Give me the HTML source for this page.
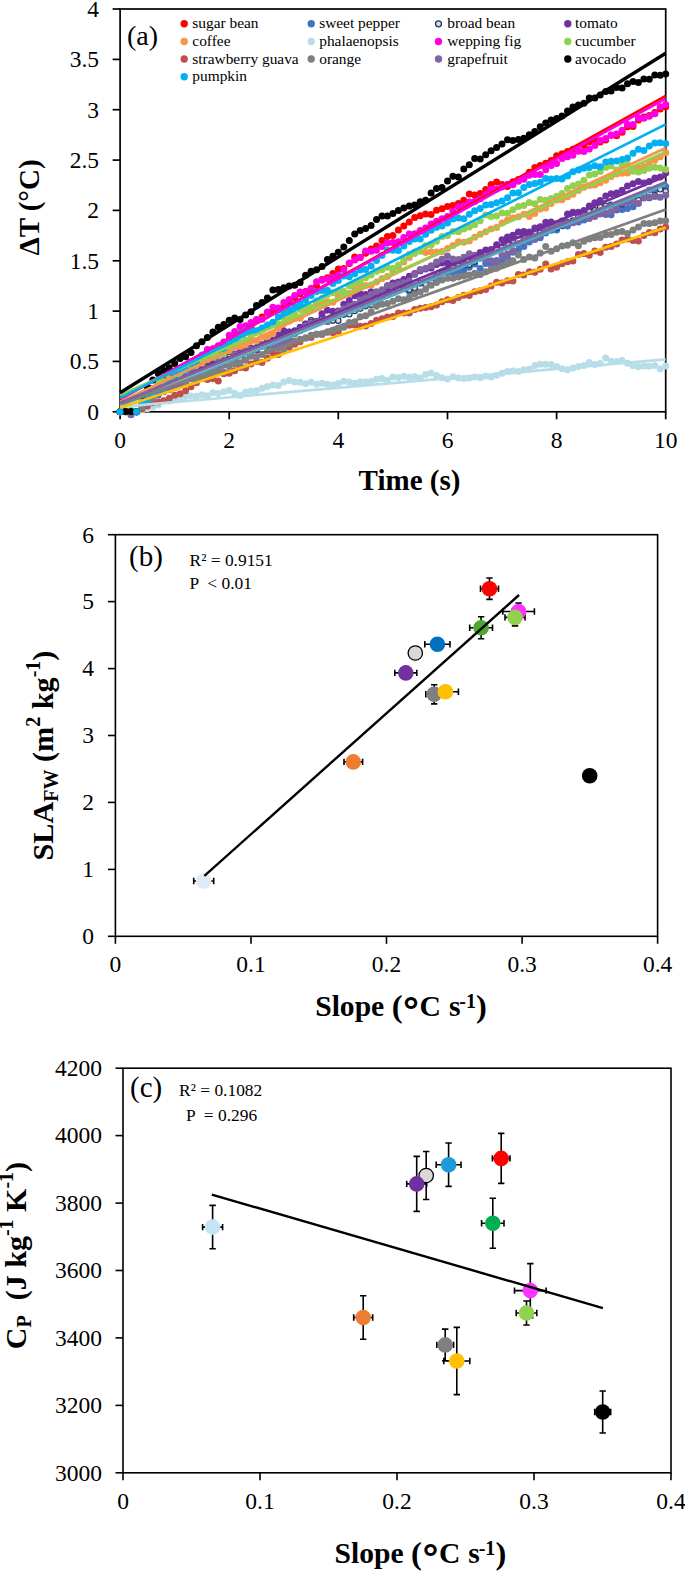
<!DOCTYPE html>
<html><head><meta charset="utf-8"><title>Figure</title>
<style>html,body{margin:0;padding:0;background:#fff}svg{display:block}</style></head>
<body>
<svg width="685" height="1571" viewBox="0 0 685 1571" font-family='"Liberation Serif", "DejaVu Serif", serif'>
<rect width="685" height="1571" fill="#fff"/>
<rect x="120.1" y="9.0" width="545.6" height="402.8" fill="none" stroke="#000" stroke-width="1.7"/>
<g stroke="#000" stroke-width="1.7">
<line x1="112.6" y1="411.8" x2="120.1" y2="411.8"/>
<line x1="112.6" y1="361.4" x2="120.1" y2="361.4"/>
<line x1="112.6" y1="311.1" x2="120.1" y2="311.1"/>
<line x1="112.6" y1="260.8" x2="120.1" y2="260.8"/>
<line x1="112.6" y1="210.4" x2="120.1" y2="210.4"/>
<line x1="112.6" y1="160.1" x2="120.1" y2="160.1"/>
<line x1="112.6" y1="109.7" x2="120.1" y2="109.7"/>
<line x1="112.6" y1="59.4" x2="120.1" y2="59.4"/>
<line x1="112.6" y1="9.0" x2="120.1" y2="9.0"/>
<line x1="120.1" y1="411.8" x2="120.1" y2="419.3"/>
<line x1="229.2" y1="411.8" x2="229.2" y2="419.3"/>
<line x1="338.3" y1="411.8" x2="338.3" y2="419.3"/>
<line x1="447.5" y1="411.8" x2="447.5" y2="419.3"/>
<line x1="556.6" y1="411.8" x2="556.6" y2="419.3"/>
<line x1="665.7" y1="411.8" x2="665.7" y2="419.3"/>
</g>
<g id="pa-dots">
<g fill="#FF0000">
<circle cx="120.1" cy="411.8" r="3.5"/>
<circle cx="125.6" cy="411.7" r="3.5"/>
<circle cx="131.0" cy="411.2" r="3.5"/>
<circle cx="136.5" cy="411.8" r="3.5"/>
<circle cx="141.9" cy="401.0" r="3.5"/>
<circle cx="147.4" cy="394.7" r="3.5"/>
<circle cx="152.8" cy="388.8" r="3.5"/>
<circle cx="158.3" cy="383.3" r="3.5"/>
<circle cx="163.7" cy="379.7" r="3.5"/>
<circle cx="169.2" cy="376.4" r="3.5"/>
<circle cx="174.7" cy="376.5" r="3.5"/>
<circle cx="180.1" cy="370.6" r="3.5"/>
<circle cx="185.6" cy="366.2" r="3.5"/>
<circle cx="191.0" cy="362.2" r="3.5"/>
<circle cx="196.5" cy="362.4" r="3.5"/>
<circle cx="201.9" cy="361.2" r="3.5"/>
<circle cx="207.4" cy="357.7" r="3.5"/>
<circle cx="212.9" cy="353.5" r="3.5"/>
<circle cx="218.3" cy="348.2" r="3.5"/>
<circle cx="223.8" cy="344.4" r="3.5"/>
<circle cx="229.2" cy="339.7" r="3.5"/>
<circle cx="234.7" cy="337.7" r="3.5"/>
<circle cx="240.1" cy="333.4" r="3.5"/>
<circle cx="245.6" cy="329.3" r="3.5"/>
<circle cx="251.0" cy="327.5" r="3.5"/>
<circle cx="256.5" cy="320.7" r="3.5"/>
<circle cx="262.0" cy="317.1" r="3.5"/>
<circle cx="267.4" cy="312.4" r="3.5"/>
<circle cx="272.9" cy="311.4" r="3.5"/>
<circle cx="278.3" cy="309.5" r="3.5"/>
<circle cx="283.8" cy="306.2" r="3.5"/>
<circle cx="289.2" cy="302.5" r="3.5"/>
<circle cx="294.7" cy="297.5" r="3.5"/>
<circle cx="300.1" cy="293.7" r="3.5"/>
<circle cx="305.6" cy="291.4" r="3.5"/>
<circle cx="311.1" cy="289.4" r="3.5"/>
<circle cx="316.5" cy="286.1" r="3.5"/>
<circle cx="322.0" cy="279.5" r="3.5"/>
<circle cx="327.4" cy="277.8" r="3.5"/>
<circle cx="332.9" cy="273.5" r="3.5"/>
<circle cx="338.3" cy="269.1" r="3.5"/>
<circle cx="343.8" cy="268.4" r="3.5"/>
<circle cx="349.3" cy="263.6" r="3.5"/>
<circle cx="354.7" cy="257.0" r="3.5"/>
<circle cx="360.2" cy="257.6" r="3.5"/>
<circle cx="365.6" cy="253.3" r="3.5"/>
<circle cx="371.1" cy="248.9" r="3.5"/>
<circle cx="376.5" cy="246.1" r="3.5"/>
<circle cx="382.0" cy="240.5" r="3.5"/>
<circle cx="387.4" cy="236.6" r="3.5"/>
<circle cx="392.9" cy="235.4" r="3.5"/>
<circle cx="398.4" cy="230.0" r="3.5"/>
<circle cx="403.8" cy="225.9" r="3.5"/>
<circle cx="409.3" cy="221.9" r="3.5"/>
<circle cx="414.7" cy="217.5" r="3.5"/>
<circle cx="420.2" cy="215.7" r="3.5"/>
<circle cx="425.6" cy="214.0" r="3.5"/>
<circle cx="431.1" cy="214.5" r="3.5"/>
<circle cx="436.5" cy="210.2" r="3.5"/>
<circle cx="442.0" cy="208.7" r="3.5"/>
<circle cx="447.5" cy="206.5" r="3.5"/>
<circle cx="452.9" cy="205.5" r="3.5"/>
<circle cx="458.4" cy="203.4" r="3.5"/>
<circle cx="463.8" cy="200.2" r="3.5"/>
<circle cx="469.3" cy="193.9" r="3.5"/>
<circle cx="474.7" cy="195.1" r="3.5"/>
<circle cx="480.2" cy="193.6" r="3.5"/>
<circle cx="485.7" cy="189.6" r="3.5"/>
<circle cx="491.1" cy="184.4" r="3.5"/>
<circle cx="496.6" cy="182.1" r="3.5"/>
<circle cx="502.0" cy="184.6" r="3.5"/>
<circle cx="507.5" cy="186.5" r="3.5"/>
<circle cx="512.9" cy="181.8" r="3.5"/>
<circle cx="518.4" cy="179.5" r="3.5"/>
<circle cx="523.8" cy="177.9" r="3.5"/>
<circle cx="529.3" cy="172.2" r="3.5"/>
<circle cx="534.8" cy="167.5" r="3.5"/>
<circle cx="540.2" cy="165.5" r="3.5"/>
<circle cx="545.7" cy="163.2" r="3.5"/>
<circle cx="551.1" cy="160.5" r="3.5"/>
<circle cx="556.6" cy="155.8" r="3.5"/>
<circle cx="562.0" cy="153.7" r="3.5"/>
<circle cx="567.5" cy="151.5" r="3.5"/>
<circle cx="572.9" cy="149.2" r="3.5"/>
<circle cx="578.4" cy="150.6" r="3.5"/>
<circle cx="583.9" cy="145.3" r="3.5"/>
<circle cx="589.3" cy="141.7" r="3.5"/>
<circle cx="594.8" cy="139.5" r="3.5"/>
<circle cx="600.2" cy="141.9" r="3.5"/>
<circle cx="605.7" cy="139.9" r="3.5"/>
<circle cx="611.1" cy="135.2" r="3.5"/>
<circle cx="616.6" cy="135.8" r="3.5"/>
<circle cx="622.1" cy="132.2" r="3.5"/>
<circle cx="627.5" cy="126.7" r="3.5"/>
<circle cx="633.0" cy="126.6" r="3.5"/>
<circle cx="638.4" cy="120.1" r="3.5"/>
<circle cx="643.9" cy="117.1" r="3.5"/>
<circle cx="649.3" cy="115.4" r="3.5"/>
<circle cx="654.8" cy="112.4" r="3.5"/>
<circle cx="660.2" cy="108.9" r="3.5"/>
<circle cx="665.7" cy="106.7" r="3.5"/>
</g>
<g fill="#4472C4">
<circle cx="120.1" cy="411.8" r="3.5"/>
<circle cx="125.6" cy="411.5" r="3.5"/>
<circle cx="131.0" cy="411.8" r="3.5"/>
<circle cx="136.5" cy="411.8" r="3.5"/>
<circle cx="141.9" cy="404.0" r="3.5"/>
<circle cx="147.4" cy="398.6" r="3.5"/>
<circle cx="152.8" cy="395.9" r="3.5"/>
<circle cx="158.3" cy="394.9" r="3.5"/>
<circle cx="163.7" cy="391.8" r="3.5"/>
<circle cx="169.2" cy="388.9" r="3.5"/>
<circle cx="174.7" cy="386.6" r="3.5"/>
<circle cx="180.1" cy="381.2" r="3.5"/>
<circle cx="185.6" cy="381.4" r="3.5"/>
<circle cx="191.0" cy="376.5" r="3.5"/>
<circle cx="196.5" cy="377.1" r="3.5"/>
<circle cx="201.9" cy="375.6" r="3.5"/>
<circle cx="207.4" cy="371.3" r="3.5"/>
<circle cx="212.9" cy="366.8" r="3.5"/>
<circle cx="218.3" cy="363.6" r="3.5"/>
<circle cx="223.8" cy="361.7" r="3.5"/>
<circle cx="229.2" cy="359.9" r="3.5"/>
<circle cx="234.7" cy="357.9" r="3.5"/>
<circle cx="240.1" cy="354.9" r="3.5"/>
<circle cx="245.6" cy="353.5" r="3.5"/>
<circle cx="251.0" cy="350.9" r="3.5"/>
<circle cx="256.5" cy="347.9" r="3.5"/>
<circle cx="262.0" cy="346.1" r="3.5"/>
<circle cx="267.4" cy="342.7" r="3.5"/>
<circle cx="272.9" cy="340.0" r="3.5"/>
<circle cx="278.3" cy="334.8" r="3.5"/>
<circle cx="283.8" cy="333.8" r="3.5"/>
<circle cx="289.2" cy="333.7" r="3.5"/>
<circle cx="294.7" cy="332.6" r="3.5"/>
<circle cx="300.1" cy="330.4" r="3.5"/>
<circle cx="305.6" cy="326.4" r="3.5"/>
<circle cx="311.1" cy="325.4" r="3.5"/>
<circle cx="316.5" cy="322.6" r="3.5"/>
<circle cx="322.0" cy="317.3" r="3.5"/>
<circle cx="327.4" cy="321.2" r="3.5"/>
<circle cx="332.9" cy="320.0" r="3.5"/>
<circle cx="338.3" cy="315.9" r="3.5"/>
<circle cx="343.8" cy="312.3" r="3.5"/>
<circle cx="349.3" cy="309.6" r="3.5"/>
<circle cx="354.7" cy="308.3" r="3.5"/>
<circle cx="360.2" cy="304.6" r="3.5"/>
<circle cx="365.6" cy="302.2" r="3.5"/>
<circle cx="371.1" cy="301.4" r="3.5"/>
<circle cx="376.5" cy="294.6" r="3.5"/>
<circle cx="382.0" cy="293.4" r="3.5"/>
<circle cx="387.4" cy="293.5" r="3.5"/>
<circle cx="392.9" cy="291.8" r="3.5"/>
<circle cx="398.4" cy="290.5" r="3.5"/>
<circle cx="403.8" cy="288.6" r="3.5"/>
<circle cx="409.3" cy="291.5" r="3.5"/>
<circle cx="414.7" cy="288.5" r="3.5"/>
<circle cx="420.2" cy="283.2" r="3.5"/>
<circle cx="425.6" cy="283.1" r="3.5"/>
<circle cx="431.1" cy="280.4" r="3.5"/>
<circle cx="436.5" cy="276.1" r="3.5"/>
<circle cx="442.0" cy="273.0" r="3.5"/>
<circle cx="447.5" cy="269.2" r="3.5"/>
<circle cx="452.9" cy="272.4" r="3.5"/>
<circle cx="458.4" cy="271.4" r="3.5"/>
<circle cx="463.8" cy="270.2" r="3.5"/>
<circle cx="469.3" cy="267.2" r="3.5"/>
<circle cx="474.7" cy="264.0" r="3.5"/>
<circle cx="480.2" cy="268.4" r="3.5"/>
<circle cx="485.7" cy="263.4" r="3.5"/>
<circle cx="491.1" cy="264.3" r="3.5"/>
<circle cx="496.6" cy="260.4" r="3.5"/>
<circle cx="502.0" cy="261.4" r="3.5"/>
<circle cx="507.5" cy="258.3" r="3.5"/>
<circle cx="512.9" cy="252.3" r="3.5"/>
<circle cx="518.4" cy="249.9" r="3.5"/>
<circle cx="523.8" cy="246.5" r="3.5"/>
<circle cx="529.3" cy="242.1" r="3.5"/>
<circle cx="534.8" cy="239.4" r="3.5"/>
<circle cx="540.2" cy="237.8" r="3.5"/>
<circle cx="545.7" cy="233.1" r="3.5"/>
<circle cx="551.1" cy="230.3" r="3.5"/>
<circle cx="556.6" cy="230.1" r="3.5"/>
<circle cx="562.0" cy="223.6" r="3.5"/>
<circle cx="567.5" cy="225.9" r="3.5"/>
<circle cx="572.9" cy="222.7" r="3.5"/>
<circle cx="578.4" cy="222.0" r="3.5"/>
<circle cx="583.9" cy="219.9" r="3.5"/>
<circle cx="589.3" cy="217.0" r="3.5"/>
<circle cx="594.8" cy="215.4" r="3.5"/>
<circle cx="600.2" cy="212.9" r="3.5"/>
<circle cx="605.7" cy="214.5" r="3.5"/>
<circle cx="611.1" cy="214.7" r="3.5"/>
<circle cx="616.6" cy="210.1" r="3.5"/>
<circle cx="622.1" cy="209.5" r="3.5"/>
<circle cx="627.5" cy="208.4" r="3.5"/>
<circle cx="633.0" cy="206.8" r="3.5"/>
<circle cx="638.4" cy="199.8" r="3.5"/>
<circle cx="643.9" cy="195.3" r="3.5"/>
<circle cx="649.3" cy="190.1" r="3.5"/>
<circle cx="654.8" cy="190.2" r="3.5"/>
<circle cx="660.2" cy="187.4" r="3.5"/>
<circle cx="665.7" cy="186.6" r="3.5"/>
</g>
<g fill="#D9D9D9" stroke="#1F3864" stroke-width="1.2">
<circle cx="120.1" cy="411.8" r="2.7"/>
<circle cx="125.6" cy="411.3" r="2.7"/>
<circle cx="131.0" cy="414.8" r="2.7"/>
<circle cx="136.5" cy="411.8" r="2.7"/>
<circle cx="141.9" cy="405.4" r="2.7"/>
<circle cx="147.4" cy="399.1" r="2.7"/>
<circle cx="152.8" cy="395.5" r="2.7"/>
<circle cx="158.3" cy="392.9" r="2.7"/>
<circle cx="163.7" cy="389.1" r="2.7"/>
<circle cx="169.2" cy="385.7" r="2.7"/>
<circle cx="174.7" cy="381.0" r="2.7"/>
<circle cx="180.1" cy="381.7" r="2.7"/>
<circle cx="185.6" cy="377.3" r="2.7"/>
<circle cx="191.0" cy="373.0" r="2.7"/>
<circle cx="196.5" cy="369.5" r="2.7"/>
<circle cx="201.9" cy="369.5" r="2.7"/>
<circle cx="207.4" cy="369.5" r="2.7"/>
<circle cx="212.9" cy="365.3" r="2.7"/>
<circle cx="218.3" cy="363.5" r="2.7"/>
<circle cx="223.8" cy="361.4" r="2.7"/>
<circle cx="229.2" cy="356.8" r="2.7"/>
<circle cx="234.7" cy="356.2" r="2.7"/>
<circle cx="240.1" cy="358.7" r="2.7"/>
<circle cx="245.6" cy="355.7" r="2.7"/>
<circle cx="251.0" cy="355.7" r="2.7"/>
<circle cx="256.5" cy="349.9" r="2.7"/>
<circle cx="262.0" cy="346.3" r="2.7"/>
<circle cx="267.4" cy="345.0" r="2.7"/>
<circle cx="272.9" cy="342.1" r="2.7"/>
<circle cx="278.3" cy="338.0" r="2.7"/>
<circle cx="283.8" cy="335.9" r="2.7"/>
<circle cx="289.2" cy="331.7" r="2.7"/>
<circle cx="294.7" cy="330.8" r="2.7"/>
<circle cx="300.1" cy="327.4" r="2.7"/>
<circle cx="305.6" cy="323.7" r="2.7"/>
<circle cx="311.1" cy="320.4" r="2.7"/>
<circle cx="316.5" cy="321.7" r="2.7"/>
<circle cx="322.0" cy="318.9" r="2.7"/>
<circle cx="327.4" cy="321.3" r="2.7"/>
<circle cx="332.9" cy="320.4" r="2.7"/>
<circle cx="338.3" cy="320.7" r="2.7"/>
<circle cx="343.8" cy="314.6" r="2.7"/>
<circle cx="349.3" cy="314.3" r="2.7"/>
<circle cx="354.7" cy="311.0" r="2.7"/>
<circle cx="360.2" cy="308.6" r="2.7"/>
<circle cx="365.6" cy="306.1" r="2.7"/>
<circle cx="371.1" cy="304.7" r="2.7"/>
<circle cx="376.5" cy="301.6" r="2.7"/>
<circle cx="382.0" cy="296.1" r="2.7"/>
<circle cx="387.4" cy="295.2" r="2.7"/>
<circle cx="392.9" cy="292.9" r="2.7"/>
<circle cx="398.4" cy="289.7" r="2.7"/>
<circle cx="403.8" cy="289.0" r="2.7"/>
<circle cx="409.3" cy="289.7" r="2.7"/>
<circle cx="414.7" cy="287.9" r="2.7"/>
<circle cx="420.2" cy="283.0" r="2.7"/>
<circle cx="425.6" cy="284.1" r="2.7"/>
<circle cx="431.1" cy="281.9" r="2.7"/>
<circle cx="436.5" cy="276.8" r="2.7"/>
<circle cx="442.0" cy="273.3" r="2.7"/>
<circle cx="447.5" cy="271.7" r="2.7"/>
<circle cx="452.9" cy="267.7" r="2.7"/>
<circle cx="458.4" cy="265.4" r="2.7"/>
<circle cx="463.8" cy="265.3" r="2.7"/>
<circle cx="469.3" cy="264.7" r="2.7"/>
<circle cx="474.7" cy="261.6" r="2.7"/>
<circle cx="480.2" cy="255.7" r="2.7"/>
<circle cx="485.7" cy="253.8" r="2.7"/>
<circle cx="491.1" cy="252.1" r="2.7"/>
<circle cx="496.6" cy="249.3" r="2.7"/>
<circle cx="502.0" cy="247.7" r="2.7"/>
<circle cx="507.5" cy="242.9" r="2.7"/>
<circle cx="512.9" cy="240.6" r="2.7"/>
<circle cx="518.4" cy="235.2" r="2.7"/>
<circle cx="523.8" cy="237.3" r="2.7"/>
<circle cx="529.3" cy="233.0" r="2.7"/>
<circle cx="534.8" cy="231.7" r="2.7"/>
<circle cx="540.2" cy="232.6" r="2.7"/>
<circle cx="545.7" cy="227.7" r="2.7"/>
<circle cx="551.1" cy="226.0" r="2.7"/>
<circle cx="556.6" cy="227.9" r="2.7"/>
<circle cx="562.0" cy="225.9" r="2.7"/>
<circle cx="567.5" cy="222.0" r="2.7"/>
<circle cx="572.9" cy="220.5" r="2.7"/>
<circle cx="578.4" cy="216.6" r="2.7"/>
<circle cx="583.9" cy="213.8" r="2.7"/>
<circle cx="589.3" cy="211.6" r="2.7"/>
<circle cx="594.8" cy="210.3" r="2.7"/>
<circle cx="600.2" cy="207.1" r="2.7"/>
<circle cx="605.7" cy="205.8" r="2.7"/>
<circle cx="611.1" cy="204.8" r="2.7"/>
<circle cx="616.6" cy="208.1" r="2.7"/>
<circle cx="622.1" cy="204.2" r="2.7"/>
<circle cx="627.5" cy="200.4" r="2.7"/>
<circle cx="633.0" cy="200.4" r="2.7"/>
<circle cx="638.4" cy="200.2" r="2.7"/>
<circle cx="643.9" cy="195.0" r="2.7"/>
<circle cx="649.3" cy="198.0" r="2.7"/>
<circle cx="654.8" cy="195.2" r="2.7"/>
<circle cx="660.2" cy="189.3" r="2.7"/>
<circle cx="665.7" cy="191.3" r="2.7"/>
</g>
<g fill="#7030A0">
<circle cx="120.1" cy="411.8" r="3.5"/>
<circle cx="125.6" cy="411.7" r="3.5"/>
<circle cx="131.0" cy="411.3" r="3.5"/>
<circle cx="136.5" cy="411.8" r="3.5"/>
<circle cx="141.9" cy="404.8" r="3.5"/>
<circle cx="147.4" cy="400.2" r="3.5"/>
<circle cx="152.8" cy="395.8" r="3.5"/>
<circle cx="158.3" cy="392.3" r="3.5"/>
<circle cx="163.7" cy="389.8" r="3.5"/>
<circle cx="169.2" cy="388.5" r="3.5"/>
<circle cx="174.7" cy="386.0" r="3.5"/>
<circle cx="180.1" cy="381.3" r="3.5"/>
<circle cx="185.6" cy="378.9" r="3.5"/>
<circle cx="191.0" cy="378.2" r="3.5"/>
<circle cx="196.5" cy="376.8" r="3.5"/>
<circle cx="201.9" cy="368.6" r="3.5"/>
<circle cx="207.4" cy="365.5" r="3.5"/>
<circle cx="212.9" cy="363.6" r="3.5"/>
<circle cx="218.3" cy="367.3" r="3.5"/>
<circle cx="223.8" cy="362.7" r="3.5"/>
<circle cx="229.2" cy="359.2" r="3.5"/>
<circle cx="234.7" cy="353.9" r="3.5"/>
<circle cx="240.1" cy="352.1" r="3.5"/>
<circle cx="245.6" cy="350.8" r="3.5"/>
<circle cx="251.0" cy="348.1" r="3.5"/>
<circle cx="256.5" cy="349.9" r="3.5"/>
<circle cx="262.0" cy="344.6" r="3.5"/>
<circle cx="267.4" cy="341.7" r="3.5"/>
<circle cx="272.9" cy="340.8" r="3.5"/>
<circle cx="278.3" cy="335.6" r="3.5"/>
<circle cx="283.8" cy="330.7" r="3.5"/>
<circle cx="289.2" cy="332.3" r="3.5"/>
<circle cx="294.7" cy="330.9" r="3.5"/>
<circle cx="300.1" cy="327.2" r="3.5"/>
<circle cx="305.6" cy="324.2" r="3.5"/>
<circle cx="311.1" cy="322.3" r="3.5"/>
<circle cx="316.5" cy="321.2" r="3.5"/>
<circle cx="322.0" cy="313.8" r="3.5"/>
<circle cx="327.4" cy="310.3" r="3.5"/>
<circle cx="332.9" cy="311.2" r="3.5"/>
<circle cx="338.3" cy="310.9" r="3.5"/>
<circle cx="343.8" cy="304.2" r="3.5"/>
<circle cx="349.3" cy="300.5" r="3.5"/>
<circle cx="354.7" cy="295.7" r="3.5"/>
<circle cx="360.2" cy="293.7" r="3.5"/>
<circle cx="365.6" cy="294.4" r="3.5"/>
<circle cx="371.1" cy="291.8" r="3.5"/>
<circle cx="376.5" cy="293.6" r="3.5"/>
<circle cx="382.0" cy="291.1" r="3.5"/>
<circle cx="387.4" cy="287.3" r="3.5"/>
<circle cx="392.9" cy="283.0" r="3.5"/>
<circle cx="398.4" cy="282.1" r="3.5"/>
<circle cx="403.8" cy="279.6" r="3.5"/>
<circle cx="409.3" cy="276.3" r="3.5"/>
<circle cx="414.7" cy="273.6" r="3.5"/>
<circle cx="420.2" cy="270.7" r="3.5"/>
<circle cx="425.6" cy="268.9" r="3.5"/>
<circle cx="431.1" cy="267.9" r="3.5"/>
<circle cx="436.5" cy="264.5" r="3.5"/>
<circle cx="442.0" cy="263.0" r="3.5"/>
<circle cx="447.5" cy="262.8" r="3.5"/>
<circle cx="452.9" cy="262.4" r="3.5"/>
<circle cx="458.4" cy="260.4" r="3.5"/>
<circle cx="463.8" cy="259.0" r="3.5"/>
<circle cx="469.3" cy="257.1" r="3.5"/>
<circle cx="474.7" cy="255.8" r="3.5"/>
<circle cx="480.2" cy="252.5" r="3.5"/>
<circle cx="485.7" cy="250.0" r="3.5"/>
<circle cx="491.1" cy="249.4" r="3.5"/>
<circle cx="496.6" cy="244.8" r="3.5"/>
<circle cx="502.0" cy="239.7" r="3.5"/>
<circle cx="507.5" cy="236.9" r="3.5"/>
<circle cx="512.9" cy="235.2" r="3.5"/>
<circle cx="518.4" cy="232.0" r="3.5"/>
<circle cx="523.8" cy="231.6" r="3.5"/>
<circle cx="529.3" cy="231.9" r="3.5"/>
<circle cx="534.8" cy="228.1" r="3.5"/>
<circle cx="540.2" cy="226.8" r="3.5"/>
<circle cx="545.7" cy="222.2" r="3.5"/>
<circle cx="551.1" cy="221.9" r="3.5"/>
<circle cx="556.6" cy="223.7" r="3.5"/>
<circle cx="562.0" cy="221.0" r="3.5"/>
<circle cx="567.5" cy="213.9" r="3.5"/>
<circle cx="572.9" cy="212.3" r="3.5"/>
<circle cx="578.4" cy="212.3" r="3.5"/>
<circle cx="583.9" cy="210.4" r="3.5"/>
<circle cx="589.3" cy="206.1" r="3.5"/>
<circle cx="594.8" cy="202.8" r="3.5"/>
<circle cx="600.2" cy="200.5" r="3.5"/>
<circle cx="605.7" cy="195.9" r="3.5"/>
<circle cx="611.1" cy="193.8" r="3.5"/>
<circle cx="616.6" cy="192.9" r="3.5"/>
<circle cx="622.1" cy="190.3" r="3.5"/>
<circle cx="627.5" cy="186.0" r="3.5"/>
<circle cx="633.0" cy="183.8" r="3.5"/>
<circle cx="638.4" cy="181.5" r="3.5"/>
<circle cx="643.9" cy="183.1" r="3.5"/>
<circle cx="649.3" cy="181.5" r="3.5"/>
<circle cx="654.8" cy="178.1" r="3.5"/>
<circle cx="660.2" cy="177.0" r="3.5"/>
<circle cx="665.7" cy="173.0" r="3.5"/>
</g>
<g fill="#F79646">
<circle cx="120.1" cy="411.8" r="3.5"/>
<circle cx="125.6" cy="411.7" r="3.5"/>
<circle cx="131.0" cy="411.1" r="3.5"/>
<circle cx="136.5" cy="411.8" r="3.5"/>
<circle cx="141.9" cy="401.9" r="3.5"/>
<circle cx="147.4" cy="394.5" r="3.5"/>
<circle cx="152.8" cy="391.3" r="3.5"/>
<circle cx="158.3" cy="385.2" r="3.5"/>
<circle cx="163.7" cy="381.4" r="3.5"/>
<circle cx="169.2" cy="379.6" r="3.5"/>
<circle cx="174.7" cy="379.8" r="3.5"/>
<circle cx="180.1" cy="376.4" r="3.5"/>
<circle cx="185.6" cy="372.9" r="3.5"/>
<circle cx="191.0" cy="368.3" r="3.5"/>
<circle cx="196.5" cy="365.0" r="3.5"/>
<circle cx="201.9" cy="363.3" r="3.5"/>
<circle cx="207.4" cy="359.6" r="3.5"/>
<circle cx="212.9" cy="356.9" r="3.5"/>
<circle cx="218.3" cy="354.7" r="3.5"/>
<circle cx="223.8" cy="352.6" r="3.5"/>
<circle cx="229.2" cy="350.7" r="3.5"/>
<circle cx="234.7" cy="346.8" r="3.5"/>
<circle cx="240.1" cy="346.6" r="3.5"/>
<circle cx="245.6" cy="344.5" r="3.5"/>
<circle cx="251.0" cy="341.1" r="3.5"/>
<circle cx="256.5" cy="340.6" r="3.5"/>
<circle cx="262.0" cy="337.3" r="3.5"/>
<circle cx="267.4" cy="337.1" r="3.5"/>
<circle cx="272.9" cy="333.5" r="3.5"/>
<circle cx="278.3" cy="327.9" r="3.5"/>
<circle cx="283.8" cy="323.5" r="3.5"/>
<circle cx="289.2" cy="320.9" r="3.5"/>
<circle cx="294.7" cy="318.6" r="3.5"/>
<circle cx="300.1" cy="318.2" r="3.5"/>
<circle cx="305.6" cy="311.0" r="3.5"/>
<circle cx="311.1" cy="308.0" r="3.5"/>
<circle cx="316.5" cy="304.0" r="3.5"/>
<circle cx="322.0" cy="304.1" r="3.5"/>
<circle cx="327.4" cy="301.8" r="3.5"/>
<circle cx="332.9" cy="302.3" r="3.5"/>
<circle cx="338.3" cy="296.8" r="3.5"/>
<circle cx="343.8" cy="292.1" r="3.5"/>
<circle cx="349.3" cy="293.4" r="3.5"/>
<circle cx="354.7" cy="289.7" r="3.5"/>
<circle cx="360.2" cy="285.1" r="3.5"/>
<circle cx="365.6" cy="285.6" r="3.5"/>
<circle cx="371.1" cy="284.9" r="3.5"/>
<circle cx="376.5" cy="282.1" r="3.5"/>
<circle cx="382.0" cy="278.4" r="3.5"/>
<circle cx="387.4" cy="276.6" r="3.5"/>
<circle cx="392.9" cy="271.8" r="3.5"/>
<circle cx="398.4" cy="266.8" r="3.5"/>
<circle cx="403.8" cy="261.9" r="3.5"/>
<circle cx="409.3" cy="257.4" r="3.5"/>
<circle cx="414.7" cy="252.0" r="3.5"/>
<circle cx="420.2" cy="249.8" r="3.5"/>
<circle cx="425.6" cy="252.4" r="3.5"/>
<circle cx="431.1" cy="251.8" r="3.5"/>
<circle cx="436.5" cy="251.9" r="3.5"/>
<circle cx="442.0" cy="251.4" r="3.5"/>
<circle cx="447.5" cy="248.6" r="3.5"/>
<circle cx="452.9" cy="245.4" r="3.5"/>
<circle cx="458.4" cy="241.7" r="3.5"/>
<circle cx="463.8" cy="242.3" r="3.5"/>
<circle cx="469.3" cy="241.0" r="3.5"/>
<circle cx="474.7" cy="237.2" r="3.5"/>
<circle cx="480.2" cy="234.2" r="3.5"/>
<circle cx="485.7" cy="231.7" r="3.5"/>
<circle cx="491.1" cy="228.9" r="3.5"/>
<circle cx="496.6" cy="227.5" r="3.5"/>
<circle cx="502.0" cy="223.0" r="3.5"/>
<circle cx="507.5" cy="220.0" r="3.5"/>
<circle cx="512.9" cy="218.0" r="3.5"/>
<circle cx="518.4" cy="216.8" r="3.5"/>
<circle cx="523.8" cy="214.3" r="3.5"/>
<circle cx="529.3" cy="216.4" r="3.5"/>
<circle cx="534.8" cy="213.6" r="3.5"/>
<circle cx="540.2" cy="209.0" r="3.5"/>
<circle cx="545.7" cy="208.1" r="3.5"/>
<circle cx="551.1" cy="203.5" r="3.5"/>
<circle cx="556.6" cy="199.9" r="3.5"/>
<circle cx="562.0" cy="199.8" r="3.5"/>
<circle cx="567.5" cy="196.8" r="3.5"/>
<circle cx="572.9" cy="194.3" r="3.5"/>
<circle cx="578.4" cy="190.5" r="3.5"/>
<circle cx="583.9" cy="187.2" r="3.5"/>
<circle cx="589.3" cy="185.4" r="3.5"/>
<circle cx="594.8" cy="185.0" r="3.5"/>
<circle cx="600.2" cy="182.7" r="3.5"/>
<circle cx="605.7" cy="180.2" r="3.5"/>
<circle cx="611.1" cy="176.5" r="3.5"/>
<circle cx="616.6" cy="173.9" r="3.5"/>
<circle cx="622.1" cy="173.2" r="3.5"/>
<circle cx="627.5" cy="172.9" r="3.5"/>
<circle cx="633.0" cy="170.0" r="3.5"/>
<circle cx="638.4" cy="168.0" r="3.5"/>
<circle cx="643.9" cy="166.4" r="3.5"/>
<circle cx="649.3" cy="162.7" r="3.5"/>
<circle cx="654.8" cy="160.2" r="3.5"/>
<circle cx="660.2" cy="156.7" r="3.5"/>
<circle cx="665.7" cy="152.8" r="3.5"/>
</g>
<g fill="#B7DEE8">
<circle cx="120.1" cy="411.8" r="3.5"/>
<circle cx="125.6" cy="411.6" r="3.5"/>
<circle cx="131.0" cy="411.7" r="3.5"/>
<circle cx="136.5" cy="411.8" r="3.5"/>
<circle cx="141.9" cy="410.0" r="3.5"/>
<circle cx="147.4" cy="408.8" r="3.5"/>
<circle cx="152.8" cy="406.9" r="3.5"/>
<circle cx="158.3" cy="404.9" r="3.5"/>
<circle cx="163.7" cy="400.8" r="3.5"/>
<circle cx="169.2" cy="400.9" r="3.5"/>
<circle cx="174.7" cy="398.8" r="3.5"/>
<circle cx="180.1" cy="397.9" r="3.5"/>
<circle cx="185.6" cy="396.5" r="3.5"/>
<circle cx="191.0" cy="395.9" r="3.5"/>
<circle cx="196.5" cy="396.1" r="3.5"/>
<circle cx="201.9" cy="394.7" r="3.5"/>
<circle cx="207.4" cy="395.8" r="3.5"/>
<circle cx="212.9" cy="392.7" r="3.5"/>
<circle cx="218.3" cy="393.5" r="3.5"/>
<circle cx="223.8" cy="391.8" r="3.5"/>
<circle cx="229.2" cy="390.2" r="3.5"/>
<circle cx="234.7" cy="393.3" r="3.5"/>
<circle cx="240.1" cy="395.4" r="3.5"/>
<circle cx="245.6" cy="392.1" r="3.5"/>
<circle cx="251.0" cy="391.0" r="3.5"/>
<circle cx="256.5" cy="390.7" r="3.5"/>
<circle cx="262.0" cy="388.2" r="3.5"/>
<circle cx="267.4" cy="386.5" r="3.5"/>
<circle cx="272.9" cy="384.9" r="3.5"/>
<circle cx="278.3" cy="385.6" r="3.5"/>
<circle cx="283.8" cy="382.1" r="3.5"/>
<circle cx="289.2" cy="380.5" r="3.5"/>
<circle cx="294.7" cy="381.9" r="3.5"/>
<circle cx="300.1" cy="382.3" r="3.5"/>
<circle cx="305.6" cy="383.8" r="3.5"/>
<circle cx="311.1" cy="382.2" r="3.5"/>
<circle cx="316.5" cy="384.3" r="3.5"/>
<circle cx="322.0" cy="383.3" r="3.5"/>
<circle cx="327.4" cy="384.2" r="3.5"/>
<circle cx="332.9" cy="385.0" r="3.5"/>
<circle cx="338.3" cy="383.4" r="3.5"/>
<circle cx="343.8" cy="381.3" r="3.5"/>
<circle cx="349.3" cy="382.0" r="3.5"/>
<circle cx="354.7" cy="383.2" r="3.5"/>
<circle cx="360.2" cy="381.7" r="3.5"/>
<circle cx="365.6" cy="381.9" r="3.5"/>
<circle cx="371.1" cy="381.4" r="3.5"/>
<circle cx="376.5" cy="379.2" r="3.5"/>
<circle cx="382.0" cy="378.4" r="3.5"/>
<circle cx="387.4" cy="380.2" r="3.5"/>
<circle cx="392.9" cy="377.1" r="3.5"/>
<circle cx="398.4" cy="377.6" r="3.5"/>
<circle cx="403.8" cy="376.3" r="3.5"/>
<circle cx="409.3" cy="377.2" r="3.5"/>
<circle cx="414.7" cy="376.5" r="3.5"/>
<circle cx="420.2" cy="378.1" r="3.5"/>
<circle cx="425.6" cy="374.5" r="3.5"/>
<circle cx="431.1" cy="372.9" r="3.5"/>
<circle cx="436.5" cy="375.6" r="3.5"/>
<circle cx="442.0" cy="377.7" r="3.5"/>
<circle cx="447.5" cy="379.1" r="3.5"/>
<circle cx="452.9" cy="376.7" r="3.5"/>
<circle cx="458.4" cy="378.1" r="3.5"/>
<circle cx="463.8" cy="378.6" r="3.5"/>
<circle cx="469.3" cy="378.1" r="3.5"/>
<circle cx="474.7" cy="377.1" r="3.5"/>
<circle cx="480.2" cy="377.7" r="3.5"/>
<circle cx="485.7" cy="376.1" r="3.5"/>
<circle cx="491.1" cy="376.9" r="3.5"/>
<circle cx="496.6" cy="375.2" r="3.5"/>
<circle cx="502.0" cy="373.2" r="3.5"/>
<circle cx="507.5" cy="371.4" r="3.5"/>
<circle cx="512.9" cy="371.0" r="3.5"/>
<circle cx="518.4" cy="371.4" r="3.5"/>
<circle cx="523.8" cy="369.7" r="3.5"/>
<circle cx="529.3" cy="369.3" r="3.5"/>
<circle cx="534.8" cy="365.6" r="3.5"/>
<circle cx="540.2" cy="364.2" r="3.5"/>
<circle cx="545.7" cy="364.2" r="3.5"/>
<circle cx="551.1" cy="364.4" r="3.5"/>
<circle cx="556.6" cy="366.6" r="3.5"/>
<circle cx="562.0" cy="368.7" r="3.5"/>
<circle cx="567.5" cy="369.7" r="3.5"/>
<circle cx="572.9" cy="368.1" r="3.5"/>
<circle cx="578.4" cy="366.6" r="3.5"/>
<circle cx="583.9" cy="365.5" r="3.5"/>
<circle cx="589.3" cy="362.4" r="3.5"/>
<circle cx="594.8" cy="364.4" r="3.5"/>
<circle cx="600.2" cy="363.4" r="3.5"/>
<circle cx="605.7" cy="358.1" r="3.5"/>
<circle cx="611.1" cy="361.2" r="3.5"/>
<circle cx="616.6" cy="361.4" r="3.5"/>
<circle cx="622.1" cy="360.4" r="3.5"/>
<circle cx="627.5" cy="363.2" r="3.5"/>
<circle cx="633.0" cy="365.7" r="3.5"/>
<circle cx="638.4" cy="366.4" r="3.5"/>
<circle cx="643.9" cy="366.0" r="3.5"/>
<circle cx="649.3" cy="366.3" r="3.5"/>
<circle cx="654.8" cy="365.5" r="3.5"/>
<circle cx="660.2" cy="368.9" r="3.5"/>
<circle cx="665.7" cy="365.9" r="3.5"/>
</g>
<g fill="#FF00E6">
<circle cx="120.1" cy="411.8" r="3.5"/>
<circle cx="125.6" cy="411.2" r="3.5"/>
<circle cx="131.0" cy="411.4" r="3.5"/>
<circle cx="136.5" cy="411.8" r="3.5"/>
<circle cx="141.9" cy="400.4" r="3.5"/>
<circle cx="147.4" cy="394.1" r="3.5"/>
<circle cx="152.8" cy="388.4" r="3.5"/>
<circle cx="158.3" cy="383.4" r="3.5"/>
<circle cx="163.7" cy="382.5" r="3.5"/>
<circle cx="169.2" cy="377.9" r="3.5"/>
<circle cx="174.7" cy="372.6" r="3.5"/>
<circle cx="180.1" cy="370.4" r="3.5"/>
<circle cx="185.6" cy="366.9" r="3.5"/>
<circle cx="191.0" cy="362.0" r="3.5"/>
<circle cx="196.5" cy="360.8" r="3.5"/>
<circle cx="201.9" cy="355.9" r="3.5"/>
<circle cx="207.4" cy="349.5" r="3.5"/>
<circle cx="212.9" cy="348.7" r="3.5"/>
<circle cx="218.3" cy="345.7" r="3.5"/>
<circle cx="223.8" cy="342.1" r="3.5"/>
<circle cx="229.2" cy="335.2" r="3.5"/>
<circle cx="234.7" cy="331.6" r="3.5"/>
<circle cx="240.1" cy="326.6" r="3.5"/>
<circle cx="245.6" cy="325.7" r="3.5"/>
<circle cx="251.0" cy="322.6" r="3.5"/>
<circle cx="256.5" cy="319.4" r="3.5"/>
<circle cx="262.0" cy="319.3" r="3.5"/>
<circle cx="267.4" cy="312.0" r="3.5"/>
<circle cx="272.9" cy="307.3" r="3.5"/>
<circle cx="278.3" cy="307.9" r="3.5"/>
<circle cx="283.8" cy="302.4" r="3.5"/>
<circle cx="289.2" cy="299.6" r="3.5"/>
<circle cx="294.7" cy="295.5" r="3.5"/>
<circle cx="300.1" cy="291.9" r="3.5"/>
<circle cx="305.6" cy="291.9" r="3.5"/>
<circle cx="311.1" cy="288.2" r="3.5"/>
<circle cx="316.5" cy="281.7" r="3.5"/>
<circle cx="322.0" cy="280.2" r="3.5"/>
<circle cx="327.4" cy="278.9" r="3.5"/>
<circle cx="332.9" cy="277.4" r="3.5"/>
<circle cx="338.3" cy="275.0" r="3.5"/>
<circle cx="343.8" cy="269.7" r="3.5"/>
<circle cx="349.3" cy="263.0" r="3.5"/>
<circle cx="354.7" cy="260.0" r="3.5"/>
<circle cx="360.2" cy="257.4" r="3.5"/>
<circle cx="365.6" cy="251.1" r="3.5"/>
<circle cx="371.1" cy="251.2" r="3.5"/>
<circle cx="376.5" cy="250.3" r="3.5"/>
<circle cx="382.0" cy="246.5" r="3.5"/>
<circle cx="387.4" cy="242.9" r="3.5"/>
<circle cx="392.9" cy="242.5" r="3.5"/>
<circle cx="398.4" cy="241.7" r="3.5"/>
<circle cx="403.8" cy="237.5" r="3.5"/>
<circle cx="409.3" cy="234.0" r="3.5"/>
<circle cx="414.7" cy="233.7" r="3.5"/>
<circle cx="420.2" cy="230.5" r="3.5"/>
<circle cx="425.6" cy="228.1" r="3.5"/>
<circle cx="431.1" cy="223.9" r="3.5"/>
<circle cx="436.5" cy="221.3" r="3.5"/>
<circle cx="442.0" cy="218.7" r="3.5"/>
<circle cx="447.5" cy="216.5" r="3.5"/>
<circle cx="452.9" cy="211.5" r="3.5"/>
<circle cx="458.4" cy="206.7" r="3.5"/>
<circle cx="463.8" cy="205.9" r="3.5"/>
<circle cx="469.3" cy="202.1" r="3.5"/>
<circle cx="474.7" cy="201.6" r="3.5"/>
<circle cx="480.2" cy="198.7" r="3.5"/>
<circle cx="485.7" cy="194.6" r="3.5"/>
<circle cx="491.1" cy="189.6" r="3.5"/>
<circle cx="496.6" cy="189.0" r="3.5"/>
<circle cx="502.0" cy="186.9" r="3.5"/>
<circle cx="507.5" cy="184.2" r="3.5"/>
<circle cx="512.9" cy="184.7" r="3.5"/>
<circle cx="518.4" cy="181.2" r="3.5"/>
<circle cx="523.8" cy="179.3" r="3.5"/>
<circle cx="529.3" cy="175.2" r="3.5"/>
<circle cx="534.8" cy="174.4" r="3.5"/>
<circle cx="540.2" cy="174.5" r="3.5"/>
<circle cx="545.7" cy="169.8" r="3.5"/>
<circle cx="551.1" cy="165.5" r="3.5"/>
<circle cx="556.6" cy="163.4" r="3.5"/>
<circle cx="562.0" cy="158.5" r="3.5"/>
<circle cx="567.5" cy="156.7" r="3.5"/>
<circle cx="572.9" cy="155.2" r="3.5"/>
<circle cx="578.4" cy="151.2" r="3.5"/>
<circle cx="583.9" cy="151.6" r="3.5"/>
<circle cx="589.3" cy="149.1" r="3.5"/>
<circle cx="594.8" cy="145.4" r="3.5"/>
<circle cx="600.2" cy="140.5" r="3.5"/>
<circle cx="605.7" cy="138.4" r="3.5"/>
<circle cx="611.1" cy="135.1" r="3.5"/>
<circle cx="616.6" cy="133.9" r="3.5"/>
<circle cx="622.1" cy="130.3" r="3.5"/>
<circle cx="627.5" cy="124.6" r="3.5"/>
<circle cx="633.0" cy="124.5" r="3.5"/>
<circle cx="638.4" cy="117.9" r="3.5"/>
<circle cx="643.9" cy="118.3" r="3.5"/>
<circle cx="649.3" cy="116.3" r="3.5"/>
<circle cx="654.8" cy="113.8" r="3.5"/>
<circle cx="660.2" cy="106.8" r="3.5"/>
<circle cx="665.7" cy="104.5" r="3.5"/>
</g>
<g fill="#92D050">
<circle cx="120.1" cy="411.8" r="3.5"/>
<circle cx="125.6" cy="411.3" r="3.5"/>
<circle cx="131.0" cy="410.2" r="3.5"/>
<circle cx="136.5" cy="411.8" r="3.5"/>
<circle cx="141.9" cy="401.5" r="3.5"/>
<circle cx="147.4" cy="394.7" r="3.5"/>
<circle cx="152.8" cy="389.5" r="3.5"/>
<circle cx="158.3" cy="381.6" r="3.5"/>
<circle cx="163.7" cy="381.8" r="3.5"/>
<circle cx="169.2" cy="378.8" r="3.5"/>
<circle cx="174.7" cy="382.2" r="3.5"/>
<circle cx="180.1" cy="375.4" r="3.5"/>
<circle cx="185.6" cy="372.4" r="3.5"/>
<circle cx="191.0" cy="367.1" r="3.5"/>
<circle cx="196.5" cy="360.7" r="3.5"/>
<circle cx="201.9" cy="359.6" r="3.5"/>
<circle cx="207.4" cy="358.4" r="3.5"/>
<circle cx="212.9" cy="357.0" r="3.5"/>
<circle cx="218.3" cy="355.7" r="3.5"/>
<circle cx="223.8" cy="353.4" r="3.5"/>
<circle cx="229.2" cy="348.7" r="3.5"/>
<circle cx="234.7" cy="345.6" r="3.5"/>
<circle cx="240.1" cy="342.6" r="3.5"/>
<circle cx="245.6" cy="340.0" r="3.5"/>
<circle cx="251.0" cy="335.3" r="3.5"/>
<circle cx="256.5" cy="332.1" r="3.5"/>
<circle cx="262.0" cy="330.1" r="3.5"/>
<circle cx="267.4" cy="326.3" r="3.5"/>
<circle cx="272.9" cy="324.3" r="3.5"/>
<circle cx="278.3" cy="323.8" r="3.5"/>
<circle cx="283.8" cy="317.6" r="3.5"/>
<circle cx="289.2" cy="314.6" r="3.5"/>
<circle cx="294.7" cy="314.4" r="3.5"/>
<circle cx="300.1" cy="309.4" r="3.5"/>
<circle cx="305.6" cy="306.7" r="3.5"/>
<circle cx="311.1" cy="307.4" r="3.5"/>
<circle cx="316.5" cy="301.0" r="3.5"/>
<circle cx="322.0" cy="298.4" r="3.5"/>
<circle cx="327.4" cy="294.7" r="3.5"/>
<circle cx="332.9" cy="292.7" r="3.5"/>
<circle cx="338.3" cy="291.0" r="3.5"/>
<circle cx="343.8" cy="291.4" r="3.5"/>
<circle cx="349.3" cy="286.0" r="3.5"/>
<circle cx="354.7" cy="283.4" r="3.5"/>
<circle cx="360.2" cy="281.3" r="3.5"/>
<circle cx="365.6" cy="277.8" r="3.5"/>
<circle cx="371.1" cy="275.1" r="3.5"/>
<circle cx="376.5" cy="271.3" r="3.5"/>
<circle cx="382.0" cy="269.8" r="3.5"/>
<circle cx="387.4" cy="267.2" r="3.5"/>
<circle cx="392.9" cy="268.4" r="3.5"/>
<circle cx="398.4" cy="265.0" r="3.5"/>
<circle cx="403.8" cy="259.8" r="3.5"/>
<circle cx="409.3" cy="254.5" r="3.5"/>
<circle cx="414.7" cy="253.4" r="3.5"/>
<circle cx="420.2" cy="251.2" r="3.5"/>
<circle cx="425.6" cy="245.7" r="3.5"/>
<circle cx="431.1" cy="244.8" r="3.5"/>
<circle cx="436.5" cy="241.3" r="3.5"/>
<circle cx="442.0" cy="236.4" r="3.5"/>
<circle cx="447.5" cy="235.4" r="3.5"/>
<circle cx="452.9" cy="231.6" r="3.5"/>
<circle cx="458.4" cy="231.8" r="3.5"/>
<circle cx="463.8" cy="229.1" r="3.5"/>
<circle cx="469.3" cy="227.0" r="3.5"/>
<circle cx="474.7" cy="224.8" r="3.5"/>
<circle cx="480.2" cy="220.7" r="3.5"/>
<circle cx="485.7" cy="215.1" r="3.5"/>
<circle cx="491.1" cy="216.4" r="3.5"/>
<circle cx="496.6" cy="216.1" r="3.5"/>
<circle cx="502.0" cy="213.1" r="3.5"/>
<circle cx="507.5" cy="213.3" r="3.5"/>
<circle cx="512.9" cy="209.7" r="3.5"/>
<circle cx="518.4" cy="206.5" r="3.5"/>
<circle cx="523.8" cy="205.4" r="3.5"/>
<circle cx="529.3" cy="202.5" r="3.5"/>
<circle cx="534.8" cy="203.8" r="3.5"/>
<circle cx="540.2" cy="199.5" r="3.5"/>
<circle cx="545.7" cy="200.3" r="3.5"/>
<circle cx="551.1" cy="198.5" r="3.5"/>
<circle cx="556.6" cy="196.3" r="3.5"/>
<circle cx="562.0" cy="193.4" r="3.5"/>
<circle cx="567.5" cy="188.4" r="3.5"/>
<circle cx="572.9" cy="185.8" r="3.5"/>
<circle cx="578.4" cy="184.0" r="3.5"/>
<circle cx="583.9" cy="180.3" r="3.5"/>
<circle cx="589.3" cy="175.1" r="3.5"/>
<circle cx="594.8" cy="173.9" r="3.5"/>
<circle cx="600.2" cy="171.5" r="3.5"/>
<circle cx="605.7" cy="167.4" r="3.5"/>
<circle cx="611.1" cy="165.8" r="3.5"/>
<circle cx="616.6" cy="169.9" r="3.5"/>
<circle cx="622.1" cy="165.8" r="3.5"/>
<circle cx="627.5" cy="164.2" r="3.5"/>
<circle cx="633.0" cy="171.2" r="3.5"/>
<circle cx="638.4" cy="172.1" r="3.5"/>
<circle cx="643.9" cy="170.6" r="3.5"/>
<circle cx="649.3" cy="168.3" r="3.5"/>
<circle cx="654.8" cy="167.2" r="3.5"/>
<circle cx="660.2" cy="167.9" r="3.5"/>
<circle cx="665.7" cy="169.4" r="3.5"/>
</g>
<g fill="#C0504D">
<circle cx="120.1" cy="411.8" r="3.5"/>
<circle cx="125.6" cy="411.1" r="3.5"/>
<circle cx="131.0" cy="411.8" r="3.5"/>
<circle cx="136.5" cy="411.8" r="3.5"/>
<circle cx="141.9" cy="408.9" r="3.5"/>
<circle cx="147.4" cy="406.0" r="3.5"/>
<circle cx="152.8" cy="402.8" r="3.5"/>
<circle cx="158.3" cy="402.1" r="3.5"/>
<circle cx="163.7" cy="400.8" r="3.5"/>
<circle cx="169.2" cy="398.3" r="3.5"/>
<circle cx="174.7" cy="395.2" r="3.5"/>
<circle cx="180.1" cy="393.7" r="3.5"/>
<circle cx="185.6" cy="390.7" r="3.5"/>
<circle cx="191.0" cy="386.7" r="3.5"/>
<circle cx="196.5" cy="382.7" r="3.5"/>
<circle cx="201.9" cy="378.5" r="3.5"/>
<circle cx="207.4" cy="379.6" r="3.5"/>
<circle cx="212.9" cy="378.8" r="3.5"/>
<circle cx="218.3" cy="381.1" r="3.5"/>
<circle cx="223.8" cy="373.8" r="3.5"/>
<circle cx="229.2" cy="373.3" r="3.5"/>
<circle cx="234.7" cy="370.8" r="3.5"/>
<circle cx="240.1" cy="367.5" r="3.5"/>
<circle cx="245.6" cy="367.9" r="3.5"/>
<circle cx="251.0" cy="363.9" r="3.5"/>
<circle cx="256.5" cy="361.5" r="3.5"/>
<circle cx="262.0" cy="362.4" r="3.5"/>
<circle cx="267.4" cy="358.2" r="3.5"/>
<circle cx="272.9" cy="353.1" r="3.5"/>
<circle cx="278.3" cy="354.6" r="3.5"/>
<circle cx="283.8" cy="349.8" r="3.5"/>
<circle cx="289.2" cy="347.2" r="3.5"/>
<circle cx="294.7" cy="344.3" r="3.5"/>
<circle cx="300.1" cy="341.8" r="3.5"/>
<circle cx="305.6" cy="337.9" r="3.5"/>
<circle cx="311.1" cy="337.5" r="3.5"/>
<circle cx="316.5" cy="334.3" r="3.5"/>
<circle cx="322.0" cy="334.6" r="3.5"/>
<circle cx="327.4" cy="332.0" r="3.5"/>
<circle cx="332.9" cy="332.7" r="3.5"/>
<circle cx="338.3" cy="331.2" r="3.5"/>
<circle cx="343.8" cy="326.4" r="3.5"/>
<circle cx="349.3" cy="325.2" r="3.5"/>
<circle cx="354.7" cy="325.0" r="3.5"/>
<circle cx="360.2" cy="326.3" r="3.5"/>
<circle cx="365.6" cy="326.0" r="3.5"/>
<circle cx="371.1" cy="323.5" r="3.5"/>
<circle cx="376.5" cy="320.2" r="3.5"/>
<circle cx="382.0" cy="318.7" r="3.5"/>
<circle cx="387.4" cy="317.1" r="3.5"/>
<circle cx="392.9" cy="316.6" r="3.5"/>
<circle cx="398.4" cy="312.9" r="3.5"/>
<circle cx="403.8" cy="313.1" r="3.5"/>
<circle cx="409.3" cy="312.9" r="3.5"/>
<circle cx="414.7" cy="309.4" r="3.5"/>
<circle cx="420.2" cy="308.2" r="3.5"/>
<circle cx="425.6" cy="307.4" r="3.5"/>
<circle cx="431.1" cy="306.7" r="3.5"/>
<circle cx="436.5" cy="305.1" r="3.5"/>
<circle cx="442.0" cy="301.8" r="3.5"/>
<circle cx="447.5" cy="299.7" r="3.5"/>
<circle cx="452.9" cy="300.6" r="3.5"/>
<circle cx="458.4" cy="297.4" r="3.5"/>
<circle cx="463.8" cy="295.3" r="3.5"/>
<circle cx="469.3" cy="295.5" r="3.5"/>
<circle cx="474.7" cy="291.7" r="3.5"/>
<circle cx="480.2" cy="290.7" r="3.5"/>
<circle cx="485.7" cy="289.5" r="3.5"/>
<circle cx="491.1" cy="286.0" r="3.5"/>
<circle cx="496.6" cy="282.3" r="3.5"/>
<circle cx="502.0" cy="283.1" r="3.5"/>
<circle cx="507.5" cy="280.7" r="3.5"/>
<circle cx="512.9" cy="280.9" r="3.5"/>
<circle cx="518.4" cy="274.6" r="3.5"/>
<circle cx="523.8" cy="275.1" r="3.5"/>
<circle cx="529.3" cy="271.7" r="3.5"/>
<circle cx="534.8" cy="272.2" r="3.5"/>
<circle cx="540.2" cy="269.2" r="3.5"/>
<circle cx="545.7" cy="264.1" r="3.5"/>
<circle cx="551.1" cy="268.9" r="3.5"/>
<circle cx="556.6" cy="267.3" r="3.5"/>
<circle cx="562.0" cy="263.7" r="3.5"/>
<circle cx="567.5" cy="261.8" r="3.5"/>
<circle cx="572.9" cy="260.9" r="3.5"/>
<circle cx="578.4" cy="254.5" r="3.5"/>
<circle cx="583.9" cy="253.6" r="3.5"/>
<circle cx="589.3" cy="255.3" r="3.5"/>
<circle cx="594.8" cy="251.1" r="3.5"/>
<circle cx="600.2" cy="252.4" r="3.5"/>
<circle cx="605.7" cy="247.2" r="3.5"/>
<circle cx="611.1" cy="246.4" r="3.5"/>
<circle cx="616.6" cy="244.1" r="3.5"/>
<circle cx="622.1" cy="240.0" r="3.5"/>
<circle cx="627.5" cy="238.9" r="3.5"/>
<circle cx="633.0" cy="240.4" r="3.5"/>
<circle cx="638.4" cy="241.1" r="3.5"/>
<circle cx="643.9" cy="235.6" r="3.5"/>
<circle cx="649.3" cy="232.5" r="3.5"/>
<circle cx="654.8" cy="232.7" r="3.5"/>
<circle cx="660.2" cy="229.1" r="3.5"/>
<circle cx="665.7" cy="227.0" r="3.5"/>
</g>
<g fill="#7F7F7F">
<circle cx="120.1" cy="411.8" r="3.5"/>
<circle cx="125.6" cy="411.6" r="3.5"/>
<circle cx="131.0" cy="411.4" r="3.5"/>
<circle cx="136.5" cy="411.8" r="3.5"/>
<circle cx="141.9" cy="407.1" r="3.5"/>
<circle cx="147.4" cy="402.2" r="3.5"/>
<circle cx="152.8" cy="397.9" r="3.5"/>
<circle cx="158.3" cy="390.2" r="3.5"/>
<circle cx="163.7" cy="391.2" r="3.5"/>
<circle cx="169.2" cy="389.8" r="3.5"/>
<circle cx="174.7" cy="387.5" r="3.5"/>
<circle cx="180.1" cy="383.8" r="3.5"/>
<circle cx="185.6" cy="383.2" r="3.5"/>
<circle cx="191.0" cy="379.0" r="3.5"/>
<circle cx="196.5" cy="379.2" r="3.5"/>
<circle cx="201.9" cy="376.5" r="3.5"/>
<circle cx="207.4" cy="375.5" r="3.5"/>
<circle cx="212.9" cy="372.8" r="3.5"/>
<circle cx="218.3" cy="371.9" r="3.5"/>
<circle cx="223.8" cy="372.1" r="3.5"/>
<circle cx="229.2" cy="366.5" r="3.5"/>
<circle cx="234.7" cy="363.8" r="3.5"/>
<circle cx="240.1" cy="363.0" r="3.5"/>
<circle cx="245.6" cy="360.2" r="3.5"/>
<circle cx="251.0" cy="356.3" r="3.5"/>
<circle cx="256.5" cy="356.8" r="3.5"/>
<circle cx="262.0" cy="354.6" r="3.5"/>
<circle cx="267.4" cy="351.3" r="3.5"/>
<circle cx="272.9" cy="348.6" r="3.5"/>
<circle cx="278.3" cy="347.7" r="3.5"/>
<circle cx="283.8" cy="349.5" r="3.5"/>
<circle cx="289.2" cy="343.7" r="3.5"/>
<circle cx="294.7" cy="341.1" r="3.5"/>
<circle cx="300.1" cy="339.3" r="3.5"/>
<circle cx="305.6" cy="337.9" r="3.5"/>
<circle cx="311.1" cy="335.3" r="3.5"/>
<circle cx="316.5" cy="334.2" r="3.5"/>
<circle cx="322.0" cy="333.8" r="3.5"/>
<circle cx="327.4" cy="332.2" r="3.5"/>
<circle cx="332.9" cy="330.2" r="3.5"/>
<circle cx="338.3" cy="328.2" r="3.5"/>
<circle cx="343.8" cy="327.2" r="3.5"/>
<circle cx="349.3" cy="322.5" r="3.5"/>
<circle cx="354.7" cy="321.8" r="3.5"/>
<circle cx="360.2" cy="316.8" r="3.5"/>
<circle cx="365.6" cy="315.8" r="3.5"/>
<circle cx="371.1" cy="311.7" r="3.5"/>
<circle cx="376.5" cy="306.3" r="3.5"/>
<circle cx="382.0" cy="304.2" r="3.5"/>
<circle cx="387.4" cy="303.6" r="3.5"/>
<circle cx="392.9" cy="301.2" r="3.5"/>
<circle cx="398.4" cy="298.8" r="3.5"/>
<circle cx="403.8" cy="299.8" r="3.5"/>
<circle cx="409.3" cy="297.6" r="3.5"/>
<circle cx="414.7" cy="294.0" r="3.5"/>
<circle cx="420.2" cy="292.1" r="3.5"/>
<circle cx="425.6" cy="289.2" r="3.5"/>
<circle cx="431.1" cy="285.3" r="3.5"/>
<circle cx="436.5" cy="282.6" r="3.5"/>
<circle cx="442.0" cy="280.0" r="3.5"/>
<circle cx="447.5" cy="278.3" r="3.5"/>
<circle cx="452.9" cy="278.2" r="3.5"/>
<circle cx="458.4" cy="277.0" r="3.5"/>
<circle cx="463.8" cy="276.1" r="3.5"/>
<circle cx="469.3" cy="274.9" r="3.5"/>
<circle cx="474.7" cy="273.3" r="3.5"/>
<circle cx="480.2" cy="274.4" r="3.5"/>
<circle cx="485.7" cy="271.8" r="3.5"/>
<circle cx="491.1" cy="269.0" r="3.5"/>
<circle cx="496.6" cy="268.3" r="3.5"/>
<circle cx="502.0" cy="265.5" r="3.5"/>
<circle cx="507.5" cy="262.2" r="3.5"/>
<circle cx="512.9" cy="260.7" r="3.5"/>
<circle cx="518.4" cy="255.0" r="3.5"/>
<circle cx="523.8" cy="259.4" r="3.5"/>
<circle cx="529.3" cy="257.0" r="3.5"/>
<circle cx="534.8" cy="258.1" r="3.5"/>
<circle cx="540.2" cy="253.1" r="3.5"/>
<circle cx="545.7" cy="246.5" r="3.5"/>
<circle cx="551.1" cy="251.3" r="3.5"/>
<circle cx="556.6" cy="248.8" r="3.5"/>
<circle cx="562.0" cy="246.0" r="3.5"/>
<circle cx="567.5" cy="245.3" r="3.5"/>
<circle cx="572.9" cy="242.7" r="3.5"/>
<circle cx="578.4" cy="245.7" r="3.5"/>
<circle cx="583.9" cy="241.2" r="3.5"/>
<circle cx="589.3" cy="239.0" r="3.5"/>
<circle cx="594.8" cy="237.7" r="3.5"/>
<circle cx="600.2" cy="237.5" r="3.5"/>
<circle cx="605.7" cy="234.7" r="3.5"/>
<circle cx="611.1" cy="234.4" r="3.5"/>
<circle cx="616.6" cy="232.2" r="3.5"/>
<circle cx="622.1" cy="231.5" r="3.5"/>
<circle cx="627.5" cy="233.5" r="3.5"/>
<circle cx="633.0" cy="230.1" r="3.5"/>
<circle cx="638.4" cy="226.9" r="3.5"/>
<circle cx="643.9" cy="223.4" r="3.5"/>
<circle cx="649.3" cy="223.5" r="3.5"/>
<circle cx="654.8" cy="222.8" r="3.5"/>
<circle cx="660.2" cy="221.1" r="3.5"/>
<circle cx="665.7" cy="220.8" r="3.5"/>
</g>
<g fill="#8064A2">
<circle cx="120.1" cy="411.8" r="3.5"/>
<circle cx="125.6" cy="411.3" r="3.5"/>
<circle cx="131.0" cy="414.8" r="3.5"/>
<circle cx="136.5" cy="411.8" r="3.5"/>
<circle cx="141.9" cy="402.6" r="3.5"/>
<circle cx="147.4" cy="397.7" r="3.5"/>
<circle cx="152.8" cy="394.9" r="3.5"/>
<circle cx="158.3" cy="392.4" r="3.5"/>
<circle cx="163.7" cy="387.6" r="3.5"/>
<circle cx="169.2" cy="386.9" r="3.5"/>
<circle cx="174.7" cy="387.3" r="3.5"/>
<circle cx="180.1" cy="385.1" r="3.5"/>
<circle cx="185.6" cy="376.4" r="3.5"/>
<circle cx="191.0" cy="371.3" r="3.5"/>
<circle cx="196.5" cy="371.9" r="3.5"/>
<circle cx="201.9" cy="371.4" r="3.5"/>
<circle cx="207.4" cy="368.4" r="3.5"/>
<circle cx="212.9" cy="367.3" r="3.5"/>
<circle cx="218.3" cy="362.0" r="3.5"/>
<circle cx="223.8" cy="360.3" r="3.5"/>
<circle cx="229.2" cy="360.1" r="3.5"/>
<circle cx="234.7" cy="354.8" r="3.5"/>
<circle cx="240.1" cy="354.2" r="3.5"/>
<circle cx="245.6" cy="351.4" r="3.5"/>
<circle cx="251.0" cy="349.2" r="3.5"/>
<circle cx="256.5" cy="347.6" r="3.5"/>
<circle cx="262.0" cy="344.5" r="3.5"/>
<circle cx="267.4" cy="343.6" r="3.5"/>
<circle cx="272.9" cy="344.2" r="3.5"/>
<circle cx="278.3" cy="344.3" r="3.5"/>
<circle cx="283.8" cy="341.7" r="3.5"/>
<circle cx="289.2" cy="338.2" r="3.5"/>
<circle cx="294.7" cy="333.8" r="3.5"/>
<circle cx="300.1" cy="330.1" r="3.5"/>
<circle cx="305.6" cy="326.0" r="3.5"/>
<circle cx="311.1" cy="323.3" r="3.5"/>
<circle cx="316.5" cy="322.5" r="3.5"/>
<circle cx="322.0" cy="320.8" r="3.5"/>
<circle cx="327.4" cy="321.4" r="3.5"/>
<circle cx="332.9" cy="317.3" r="3.5"/>
<circle cx="338.3" cy="312.6" r="3.5"/>
<circle cx="343.8" cy="308.7" r="3.5"/>
<circle cx="349.3" cy="306.5" r="3.5"/>
<circle cx="354.7" cy="304.3" r="3.5"/>
<circle cx="360.2" cy="300.0" r="3.5"/>
<circle cx="365.6" cy="298.0" r="3.5"/>
<circle cx="371.1" cy="294.6" r="3.5"/>
<circle cx="376.5" cy="291.8" r="3.5"/>
<circle cx="382.0" cy="289.7" r="3.5"/>
<circle cx="387.4" cy="285.5" r="3.5"/>
<circle cx="392.9" cy="285.4" r="3.5"/>
<circle cx="398.4" cy="283.9" r="3.5"/>
<circle cx="403.8" cy="282.7" r="3.5"/>
<circle cx="409.3" cy="280.9" r="3.5"/>
<circle cx="414.7" cy="274.6" r="3.5"/>
<circle cx="420.2" cy="269.4" r="3.5"/>
<circle cx="425.6" cy="268.3" r="3.5"/>
<circle cx="431.1" cy="265.7" r="3.5"/>
<circle cx="436.5" cy="261.9" r="3.5"/>
<circle cx="442.0" cy="259.3" r="3.5"/>
<circle cx="447.5" cy="256.0" r="3.5"/>
<circle cx="452.9" cy="259.1" r="3.5"/>
<circle cx="458.4" cy="259.4" r="3.5"/>
<circle cx="463.8" cy="257.3" r="3.5"/>
<circle cx="469.3" cy="253.8" r="3.5"/>
<circle cx="474.7" cy="255.3" r="3.5"/>
<circle cx="480.2" cy="258.2" r="3.5"/>
<circle cx="485.7" cy="259.3" r="3.5"/>
<circle cx="491.1" cy="260.8" r="3.5"/>
<circle cx="496.6" cy="262.2" r="3.5"/>
<circle cx="502.0" cy="255.5" r="3.5"/>
<circle cx="507.5" cy="254.0" r="3.5"/>
<circle cx="512.9" cy="250.8" r="3.5"/>
<circle cx="518.4" cy="243.8" r="3.5"/>
<circle cx="523.8" cy="240.2" r="3.5"/>
<circle cx="529.3" cy="238.8" r="3.5"/>
<circle cx="534.8" cy="238.6" r="3.5"/>
<circle cx="540.2" cy="235.7" r="3.5"/>
<circle cx="545.7" cy="230.7" r="3.5"/>
<circle cx="551.1" cy="228.5" r="3.5"/>
<circle cx="556.6" cy="225.0" r="3.5"/>
<circle cx="562.0" cy="224.7" r="3.5"/>
<circle cx="567.5" cy="222.9" r="3.5"/>
<circle cx="572.9" cy="222.4" r="3.5"/>
<circle cx="578.4" cy="220.2" r="3.5"/>
<circle cx="583.9" cy="216.6" r="3.5"/>
<circle cx="589.3" cy="218.6" r="3.5"/>
<circle cx="594.8" cy="216.5" r="3.5"/>
<circle cx="600.2" cy="214.0" r="3.5"/>
<circle cx="605.7" cy="213.2" r="3.5"/>
<circle cx="611.1" cy="211.4" r="3.5"/>
<circle cx="616.6" cy="208.0" r="3.5"/>
<circle cx="622.1" cy="203.0" r="3.5"/>
<circle cx="627.5" cy="201.9" r="3.5"/>
<circle cx="633.0" cy="201.2" r="3.5"/>
<circle cx="638.4" cy="203.5" r="3.5"/>
<circle cx="643.9" cy="197.9" r="3.5"/>
<circle cx="649.3" cy="197.3" r="3.5"/>
<circle cx="654.8" cy="196.5" r="3.5"/>
<circle cx="660.2" cy="197.3" r="3.5"/>
<circle cx="665.7" cy="195.2" r="3.5"/>
</g>
<g fill="#000000">
<circle cx="120.1" cy="411.8" r="3.5"/>
<circle cx="125.6" cy="411.5" r="3.5"/>
<circle cx="131.0" cy="411.6" r="3.5"/>
<circle cx="136.5" cy="411.8" r="3.5"/>
<circle cx="141.9" cy="395.6" r="3.5"/>
<circle cx="147.4" cy="386.8" r="3.5"/>
<circle cx="152.8" cy="380.1" r="3.5"/>
<circle cx="158.3" cy="373.4" r="3.5"/>
<circle cx="163.7" cy="370.4" r="3.5"/>
<circle cx="169.2" cy="367.7" r="3.5"/>
<circle cx="174.7" cy="363.5" r="3.5"/>
<circle cx="180.1" cy="358.5" r="3.5"/>
<circle cx="185.6" cy="356.8" r="3.5"/>
<circle cx="191.0" cy="352.5" r="3.5"/>
<circle cx="196.5" cy="345.7" r="3.5"/>
<circle cx="201.9" cy="341.7" r="3.5"/>
<circle cx="207.4" cy="337.4" r="3.5"/>
<circle cx="212.9" cy="332.1" r="3.5"/>
<circle cx="218.3" cy="327.3" r="3.5"/>
<circle cx="223.8" cy="324.5" r="3.5"/>
<circle cx="229.2" cy="320.2" r="3.5"/>
<circle cx="234.7" cy="317.9" r="3.5"/>
<circle cx="240.1" cy="319.6" r="3.5"/>
<circle cx="245.6" cy="315.0" r="3.5"/>
<circle cx="251.0" cy="311.8" r="3.5"/>
<circle cx="256.5" cy="305.6" r="3.5"/>
<circle cx="262.0" cy="302.6" r="3.5"/>
<circle cx="267.4" cy="297.9" r="3.5"/>
<circle cx="272.9" cy="289.9" r="3.5"/>
<circle cx="278.3" cy="289.4" r="3.5"/>
<circle cx="283.8" cy="287.7" r="3.5"/>
<circle cx="289.2" cy="285.9" r="3.5"/>
<circle cx="294.7" cy="285.2" r="3.5"/>
<circle cx="300.1" cy="282.4" r="3.5"/>
<circle cx="305.6" cy="275.2" r="3.5"/>
<circle cx="311.1" cy="271.3" r="3.5"/>
<circle cx="316.5" cy="269.7" r="3.5"/>
<circle cx="322.0" cy="266.6" r="3.5"/>
<circle cx="327.4" cy="259.5" r="3.5"/>
<circle cx="332.9" cy="256.3" r="3.5"/>
<circle cx="338.3" cy="252.3" r="3.5"/>
<circle cx="343.8" cy="247.0" r="3.5"/>
<circle cx="349.3" cy="240.6" r="3.5"/>
<circle cx="354.7" cy="234.1" r="3.5"/>
<circle cx="360.2" cy="230.5" r="3.5"/>
<circle cx="365.6" cy="228.4" r="3.5"/>
<circle cx="371.1" cy="225.6" r="3.5"/>
<circle cx="376.5" cy="219.5" r="3.5"/>
<circle cx="382.0" cy="216.0" r="3.5"/>
<circle cx="387.4" cy="216.0" r="3.5"/>
<circle cx="392.9" cy="213.5" r="3.5"/>
<circle cx="398.4" cy="210.6" r="3.5"/>
<circle cx="403.8" cy="208.0" r="3.5"/>
<circle cx="409.3" cy="206.0" r="3.5"/>
<circle cx="414.7" cy="205.1" r="3.5"/>
<circle cx="420.2" cy="201.7" r="3.5"/>
<circle cx="425.6" cy="200.2" r="3.5"/>
<circle cx="431.1" cy="192.9" r="3.5"/>
<circle cx="436.5" cy="188.4" r="3.5"/>
<circle cx="442.0" cy="187.6" r="3.5"/>
<circle cx="447.5" cy="181.0" r="3.5"/>
<circle cx="452.9" cy="176.2" r="3.5"/>
<circle cx="458.4" cy="177.0" r="3.5"/>
<circle cx="463.8" cy="169.1" r="3.5"/>
<circle cx="469.3" cy="164.8" r="3.5"/>
<circle cx="474.7" cy="158.4" r="3.5"/>
<circle cx="480.2" cy="159.0" r="3.5"/>
<circle cx="485.7" cy="154.7" r="3.5"/>
<circle cx="491.1" cy="150.8" r="3.5"/>
<circle cx="496.6" cy="147.4" r="3.5"/>
<circle cx="502.0" cy="143.9" r="3.5"/>
<circle cx="507.5" cy="139.7" r="3.5"/>
<circle cx="512.9" cy="140.6" r="3.5"/>
<circle cx="518.4" cy="139.6" r="3.5"/>
<circle cx="523.8" cy="138.2" r="3.5"/>
<circle cx="529.3" cy="134.7" r="3.5"/>
<circle cx="534.8" cy="131.6" r="3.5"/>
<circle cx="540.2" cy="126.8" r="3.5"/>
<circle cx="545.7" cy="123.0" r="3.5"/>
<circle cx="551.1" cy="120.1" r="3.5"/>
<circle cx="556.6" cy="118.4" r="3.5"/>
<circle cx="562.0" cy="116.0" r="3.5"/>
<circle cx="567.5" cy="110.9" r="3.5"/>
<circle cx="572.9" cy="107.1" r="3.5"/>
<circle cx="578.4" cy="105.0" r="3.5"/>
<circle cx="583.9" cy="103.3" r="3.5"/>
<circle cx="589.3" cy="97.9" r="3.5"/>
<circle cx="594.8" cy="98.0" r="3.5"/>
<circle cx="600.2" cy="95.0" r="3.5"/>
<circle cx="605.7" cy="91.4" r="3.5"/>
<circle cx="611.1" cy="90.9" r="3.5"/>
<circle cx="616.6" cy="87.6" r="3.5"/>
<circle cx="622.1" cy="88.1" r="3.5"/>
<circle cx="627.5" cy="83.7" r="3.5"/>
<circle cx="633.0" cy="81.5" r="3.5"/>
<circle cx="638.4" cy="82.5" r="3.5"/>
<circle cx="643.9" cy="79.0" r="3.5"/>
<circle cx="649.3" cy="79.2" r="3.5"/>
<circle cx="654.8" cy="74.9" r="3.5"/>
<circle cx="660.2" cy="75.3" r="3.5"/>
<circle cx="665.7" cy="74.0" r="3.5"/>
</g>
<g fill="#00B0F0">
<circle cx="120.1" cy="411.8" r="3.5"/>
<circle cx="136.5" cy="411.8" r="3.5"/>
<circle cx="141.9" cy="403.0" r="3.5"/>
<circle cx="147.4" cy="400.0" r="3.5"/>
<circle cx="152.8" cy="393.3" r="3.5"/>
<circle cx="158.3" cy="389.1" r="3.5"/>
<circle cx="163.7" cy="387.8" r="3.5"/>
<circle cx="169.2" cy="381.9" r="3.5"/>
<circle cx="174.7" cy="375.9" r="3.5"/>
<circle cx="180.1" cy="370.7" r="3.5"/>
<circle cx="185.6" cy="370.2" r="3.5"/>
<circle cx="191.0" cy="363.9" r="3.5"/>
<circle cx="196.5" cy="362.0" r="3.5"/>
<circle cx="201.9" cy="354.9" r="3.5"/>
<circle cx="207.4" cy="354.0" r="3.5"/>
<circle cx="212.9" cy="350.8" r="3.5"/>
<circle cx="218.3" cy="349.4" r="3.5"/>
<circle cx="223.8" cy="348.7" r="3.5"/>
<circle cx="229.2" cy="343.1" r="3.5"/>
<circle cx="234.7" cy="338.7" r="3.5"/>
<circle cx="240.1" cy="333.7" r="3.5"/>
<circle cx="245.6" cy="330.7" r="3.5"/>
<circle cx="251.0" cy="330.3" r="3.5"/>
<circle cx="256.5" cy="330.7" r="3.5"/>
<circle cx="262.0" cy="327.9" r="3.5"/>
<circle cx="267.4" cy="325.0" r="3.5"/>
<circle cx="272.9" cy="322.2" r="3.5"/>
<circle cx="278.3" cy="316.8" r="3.5"/>
<circle cx="283.8" cy="312.7" r="3.5"/>
<circle cx="289.2" cy="310.1" r="3.5"/>
<circle cx="294.7" cy="306.5" r="3.5"/>
<circle cx="300.1" cy="303.6" r="3.5"/>
<circle cx="305.6" cy="300.0" r="3.5"/>
<circle cx="311.1" cy="295.6" r="3.5"/>
<circle cx="316.5" cy="291.4" r="3.5"/>
<circle cx="322.0" cy="290.5" r="3.5"/>
<circle cx="327.4" cy="290.3" r="3.5"/>
<circle cx="332.9" cy="283.5" r="3.5"/>
<circle cx="338.3" cy="280.6" r="3.5"/>
<circle cx="343.8" cy="275.9" r="3.5"/>
<circle cx="349.3" cy="276.8" r="3.5"/>
<circle cx="354.7" cy="273.8" r="3.5"/>
<circle cx="360.2" cy="270.1" r="3.5"/>
<circle cx="365.6" cy="269.4" r="3.5"/>
<circle cx="371.1" cy="266.0" r="3.5"/>
<circle cx="376.5" cy="260.6" r="3.5"/>
<circle cx="382.0" cy="255.4" r="3.5"/>
<circle cx="387.4" cy="250.2" r="3.5"/>
<circle cx="392.9" cy="250.3" r="3.5"/>
<circle cx="398.4" cy="250.4" r="3.5"/>
<circle cx="403.8" cy="245.9" r="3.5"/>
<circle cx="409.3" cy="241.4" r="3.5"/>
<circle cx="414.7" cy="238.9" r="3.5"/>
<circle cx="420.2" cy="239.0" r="3.5"/>
<circle cx="425.6" cy="234.2" r="3.5"/>
<circle cx="431.1" cy="230.2" r="3.5"/>
<circle cx="436.5" cy="227.2" r="3.5"/>
<circle cx="442.0" cy="226.1" r="3.5"/>
<circle cx="447.5" cy="223.0" r="3.5"/>
<circle cx="452.9" cy="219.1" r="3.5"/>
<circle cx="458.4" cy="218.1" r="3.5"/>
<circle cx="463.8" cy="218.8" r="3.5"/>
<circle cx="469.3" cy="214.2" r="3.5"/>
<circle cx="474.7" cy="210.7" r="3.5"/>
<circle cx="480.2" cy="208.6" r="3.5"/>
<circle cx="485.7" cy="205.0" r="3.5"/>
<circle cx="491.1" cy="204.6" r="3.5"/>
<circle cx="496.6" cy="202.7" r="3.5"/>
<circle cx="502.0" cy="201.1" r="3.5"/>
<circle cx="507.5" cy="197.7" r="3.5"/>
<circle cx="512.9" cy="193.0" r="3.5"/>
<circle cx="518.4" cy="192.7" r="3.5"/>
<circle cx="523.8" cy="187.6" r="3.5"/>
<circle cx="529.3" cy="184.6" r="3.5"/>
<circle cx="534.8" cy="183.4" r="3.5"/>
<circle cx="540.2" cy="182.2" r="3.5"/>
<circle cx="545.7" cy="178.6" r="3.5"/>
<circle cx="551.1" cy="179.1" r="3.5"/>
<circle cx="556.6" cy="178.5" r="3.5"/>
<circle cx="562.0" cy="179.1" r="3.5"/>
<circle cx="567.5" cy="176.0" r="3.5"/>
<circle cx="572.9" cy="171.7" r="3.5"/>
<circle cx="578.4" cy="169.9" r="3.5"/>
<circle cx="583.9" cy="168.2" r="3.5"/>
<circle cx="589.3" cy="167.5" r="3.5"/>
<circle cx="594.8" cy="165.7" r="3.5"/>
<circle cx="600.2" cy="166.7" r="3.5"/>
<circle cx="605.7" cy="162.1" r="3.5"/>
<circle cx="611.1" cy="161.2" r="3.5"/>
<circle cx="616.6" cy="161.0" r="3.5"/>
<circle cx="622.1" cy="159.5" r="3.5"/>
<circle cx="627.5" cy="158.0" r="3.5"/>
<circle cx="633.0" cy="153.2" r="3.5"/>
<circle cx="638.4" cy="149.2" r="3.5"/>
<circle cx="643.9" cy="150.4" r="3.5"/>
<circle cx="649.3" cy="146.1" r="3.5"/>
<circle cx="654.8" cy="142.9" r="3.5"/>
<circle cx="660.2" cy="142.8" r="3.5"/>
<circle cx="665.7" cy="143.6" r="3.5"/>
</g>
</g>
<g id="pa-lines" fill="none" stroke-linecap="butt">
<line x1="120.1" y1="399.2" x2="665.7" y2="95.9" stroke="#FF0000" stroke-width="2.7"/>
<line x1="120.1" y1="405.8" x2="665.7" y2="184.6" stroke="#4BACC6" stroke-width="2.7"/>
<line x1="120.1" y1="404.8" x2="665.7" y2="181.2" stroke="#BFBFBF" stroke-width="1.2"/>
<line x1="120.1" y1="403.2" x2="665.7" y2="176.2" stroke="#7030A0" stroke-width="2.7"/>
<line x1="120.1" y1="401.7" x2="665.7" y2="148.0" stroke="#F79646" stroke-width="2.7"/>
<line x1="120.1" y1="406.8" x2="665.7" y2="359.4" stroke="#B7DEE8" stroke-width="2.7"/>
<line x1="120.1" y1="398.7" x2="665.7" y2="98.6" stroke="#FF00E6" stroke-width="2.7"/>
<line x1="120.1" y1="395.2" x2="665.7" y2="152.0" stroke="#92D050" stroke-width="2.7"/>
<line x1="120.1" y1="407.8" x2="665.7" y2="227.5" stroke="#FFC000" stroke-width="2.7"/>
<line x1="120.1" y1="404.2" x2="665.7" y2="209.4" stroke="#7F7F7F" stroke-width="2.7"/>
<line x1="120.1" y1="402.7" x2="665.7" y2="182.2" stroke="#8064A2" stroke-width="2.7"/>
<line x1="120.1" y1="392.7" x2="665.7" y2="53.3" stroke="#000000" stroke-width="3.4"/>
<line x1="120.1" y1="397.9" x2="665.7" y2="124.4" stroke="#00B0F0" stroke-width="2.7"/>
</g>
<g font-size="23.5" fill="#000">
<text x="99" y="419.6" text-anchor="end">0</text>
<text x="99" y="369.2" text-anchor="end">0.5</text>
<text x="99" y="318.9" text-anchor="end">1</text>
<text x="99" y="268.6" text-anchor="end">1.5</text>
<text x="99" y="218.2" text-anchor="end">2</text>
<text x="99" y="167.9" text-anchor="end">2.5</text>
<text x="99" y="117.5" text-anchor="end">3</text>
<text x="99" y="67.2" text-anchor="end">3.5</text>
<text x="99" y="16.8" text-anchor="end">4</text>
<text x="120.1" y="447.5" text-anchor="middle">0</text>
<text x="229.2" y="447.5" text-anchor="middle">2</text>
<text x="338.3" y="447.5" text-anchor="middle">4</text>
<text x="447.5" y="447.5" text-anchor="middle">6</text>
<text x="556.6" y="447.5" text-anchor="middle">8</text>
<text x="665.7" y="447.5" text-anchor="middle">10</text>
</g>
<text x="409.5" y="489.5" font-size="29" font-weight="bold" text-anchor="middle">Time (s)</text>
<text transform="translate(39,207.5) rotate(-90)" font-size="29" font-weight="bold" text-anchor="middle">ΔT (°C)</text>
<text x="127" y="44.5" font-size="28">(a)</text>
<g font-size="15.4">
<circle cx="184.2" cy="23.8" r="3.7" fill="#FF0000"/>
<text x="192.3" y="28.4">sugar bean</text>
<circle cx="311.2" cy="23.8" r="3.7" fill="#4472C4"/>
<text x="319.2" y="28.4">sweet pepper</text>
<circle cx="438.5" cy="23.8" r="3.0" fill="#D9D9D9" stroke="#1F3864" stroke-width="1.3"/>
<text x="447.2" y="28.4">broad bean</text>
<circle cx="567.8" cy="23.8" r="3.7" fill="#7030A0"/>
<text x="575" y="28.4">tomato</text>
<circle cx="184.2" cy="41.5" r="3.7" fill="#F79646"/>
<text x="192.3" y="46.1">coffee</text>
<circle cx="311.2" cy="41.5" r="3.7" fill="#B7DEE8"/>
<text x="319.2" y="46.1">phalaenopsis</text>
<circle cx="438.5" cy="41.5" r="3.7" fill="#FF00E6"/>
<text x="447.2" y="46.1">wepping fig</text>
<circle cx="567.8" cy="41.5" r="3.7" fill="#92D050"/>
<text x="575" y="46.1">cucumber</text>
<circle cx="184.2" cy="59" r="3.7" fill="#C0504D"/>
<text x="192.3" y="63.6">strawberry guava</text>
<circle cx="311.2" cy="59" r="3.7" fill="#7F7F7F"/>
<text x="319.2" y="63.6">orange</text>
<circle cx="438.5" cy="59" r="3.7" fill="#8064A2"/>
<text x="447.2" y="63.6">grapefruit</text>
<circle cx="567.8" cy="59" r="3.7" fill="#000000"/>
<text x="575" y="63.6">avocado</text>
<circle cx="184.2" cy="76.7" r="3.7" fill="#00B0F0"/>
<text x="192.3" y="81.3">pumpkin</text>
</g>
<rect x="115.4" y="534.7" width="542.2" height="401.5999999999999" fill="none" stroke="#000" stroke-width="1.6"/>
<g stroke="#000" stroke-width="1.6">
<line x1="107.9" y1="936.3" x2="115.4" y2="936.3"/>
<line x1="107.9" y1="869.4" x2="115.4" y2="869.4"/>
<line x1="107.9" y1="802.4" x2="115.4" y2="802.4"/>
<line x1="107.9" y1="735.5" x2="115.4" y2="735.5"/>
<line x1="107.9" y1="668.6" x2="115.4" y2="668.6"/>
<line x1="107.9" y1="601.6" x2="115.4" y2="601.6"/>
<line x1="107.9" y1="534.7" x2="115.4" y2="534.7"/>
<line x1="115.4" y1="936.3" x2="115.4" y2="943.8"/>
<line x1="251.0" y1="936.3" x2="251.0" y2="943.8"/>
<line x1="386.5" y1="936.3" x2="386.5" y2="943.8"/>
<line x1="522.1" y1="936.3" x2="522.1" y2="943.8"/>
<line x1="657.6" y1="936.3" x2="657.6" y2="943.8"/>
</g>
<g font-size="23.5" fill="#000">
<text x="94" y="944.1" text-anchor="end">0</text>
<text x="94" y="877.2" text-anchor="end">1</text>
<text x="94" y="810.2" text-anchor="end">2</text>
<text x="94" y="743.3" text-anchor="end">3</text>
<text x="94" y="676.4" text-anchor="end">4</text>
<text x="94" y="609.4" text-anchor="end">5</text>
<text x="94" y="542.5" text-anchor="end">6</text>
<text x="115.4" y="971.8" text-anchor="middle">0</text>
<text x="251.0" y="971.8" text-anchor="middle">0.1</text>
<text x="386.5" y="971.8" text-anchor="middle">0.2</text>
<text x="522.1" y="971.8" text-anchor="middle">0.3</text>
<text x="657.6" y="971.8" text-anchor="middle">0.4</text>
</g>
<path d="M193.7 881.0H213.7M193.7 877.8V884.2M213.7 877.8V884.2M344.0 761.9H362.6M344.0 758.7V765.1M362.6 758.7V765.1M394.8 672.9H416.8M394.8 669.7V676.1M416.8 669.7V676.1M434.2 684.7V703.9M431.0 684.7H437.4M431.0 703.9H437.4M425.8 694.3H442.6M425.8 691.1V697.5M442.6 691.1V697.5M424.8 644.2H450.0M424.8 641.0V647.4M450.0 641.0V647.4M432.4 691.8H458.4M432.4 688.6V695.0M458.4 688.6V695.0M481.1 616.8V638.8M477.9 616.8H484.3M477.9 638.8H484.3M469.7 627.8H492.5M469.7 624.6V631.0M492.5 624.6V631.0M489.5 578.0V599.4M486.3 578.0H492.7M486.3 599.4H492.7M480.5 588.7H498.5M480.5 585.5V591.9M498.5 585.5V591.9M518.6 603.0V620.0M515.4 603.0H521.8M515.4 620.0H521.8M502.8 611.5H534.4M502.8 608.3V614.7M534.4 608.3V614.7M515.0 608.9V625.9M511.8 608.9H518.2M511.8 625.9H518.2M505.0 617.4H525.0M505.0 614.2V620.6M525.0 614.2V620.6" stroke="#000" stroke-width="1.6" fill="none"/>
<circle cx="203.7" cy="881.0" r="7.8" fill="#DDEBF7"/>
<circle cx="353.3" cy="761.9" r="7.8" fill="#ED7D31"/>
<circle cx="405.8" cy="672.9" r="7.8" fill="#7030A0"/>
<circle cx="415.3" cy="653.0" r="7.2" fill="#D9D9D9" stroke="#000" stroke-width="1.3"/>
<circle cx="434.2" cy="694.3" r="7.8" fill="#7F7F7F"/>
<circle cx="437.4" cy="644.2" r="7.8" fill="#0070C0"/>
<circle cx="445.4" cy="691.8" r="7.8" fill="#FFC000"/>
<circle cx="481.1" cy="627.8" r="7.8" fill="#4EA72E"/>
<circle cx="489.5" cy="588.7" r="7.8" fill="#FF0000"/>
<circle cx="518.6" cy="611.5" r="7.8" fill="#FF33FF"/>
<circle cx="515.0" cy="617.4" r="7.8" fill="#92D050"/>
<circle cx="589.7" cy="775.7" r="7.8" fill="#000000"/>
<line x1="204.4" y1="875.8" x2="519" y2="595" stroke="#000" stroke-width="2.4"/>
<text x="129" y="565.5" font-size="29">(b)</text>
<text x="189.6" y="565.5" font-size="17.4">R² = 0.9151</text>
<text x="189.6" y="589.4" font-size="17.4" xml:space="preserve">P  &lt; 0.01</text>
<text x="315.2" y="1016" font-size="29.6" font-weight="bold">Slope <tspan font-size="32.5" dy="1">(</tspan><tspan font-family="DejaVu Sans" font-size="38" dy="8" dx="-1.0">°</tspan><tspan dy="-9" dx="-1">C </tspan><tspan dx="0.6">s</tspan><tspan font-size="20" dy="-8.5" dx="-1.2">-1</tspan><tspan font-size="32.5" dy="9.5" dx="0.2">)</tspan></text>
<text transform="translate(52.6,755.5) rotate(-90)" font-size="30.2" font-weight="bold" text-anchor="middle">SLA<tspan font-size="20" dy="5">FW</tspan><tspan dy="-5"> (m</tspan><tspan font-size="20" dy="-13">2</tspan><tspan dy="13"> kg</tspan><tspan font-size="20" dy="-13">-1</tspan><tspan dy="13">)</tspan></text>
<rect x="123.0" y="1068.2" width="548.0" height="404.5999999999999" fill="none" stroke="#000" stroke-width="1.6"/>
<g stroke="#000" stroke-width="1.6">
<line x1="115.5" y1="1472.8" x2="123.0" y2="1472.8"/>
<line x1="115.5" y1="1405.4" x2="123.0" y2="1405.4"/>
<line x1="115.5" y1="1337.9" x2="123.0" y2="1337.9"/>
<line x1="115.5" y1="1270.5" x2="123.0" y2="1270.5"/>
<line x1="115.5" y1="1203.1" x2="123.0" y2="1203.1"/>
<line x1="115.5" y1="1135.6" x2="123.0" y2="1135.6"/>
<line x1="115.5" y1="1068.2" x2="123.0" y2="1068.2"/>
<line x1="123.0" y1="1472.8" x2="123.0" y2="1480.3"/>
<line x1="260.0" y1="1472.8" x2="260.0" y2="1480.3"/>
<line x1="397.0" y1="1472.8" x2="397.0" y2="1480.3"/>
<line x1="534.0" y1="1472.8" x2="534.0" y2="1480.3"/>
<line x1="671.0" y1="1472.8" x2="671.0" y2="1480.3"/>
</g>
<g font-size="23.5" fill="#000">
<text x="102" y="1480.6" text-anchor="end">3000</text>
<text x="102" y="1413.2" text-anchor="end">3200</text>
<text x="102" y="1345.7" text-anchor="end">3400</text>
<text x="102" y="1278.3" text-anchor="end">3600</text>
<text x="102" y="1210.9" text-anchor="end">3800</text>
<text x="102" y="1143.4" text-anchor="end">4000</text>
<text x="102" y="1076.0" text-anchor="end">4200</text>
<text x="123.0" y="1508.5" text-anchor="middle">0</text>
<text x="260.0" y="1508.5" text-anchor="middle">0.1</text>
<text x="397.0" y="1508.5" text-anchor="middle">0.2</text>
<text x="534.0" y="1508.5" text-anchor="middle">0.3</text>
<text x="671.0" y="1508.5" text-anchor="middle">0.4</text>
</g>
<path d="M212.6 1205.4V1248.8M209.4 1205.4H215.8M209.4 1248.8H215.8M202.6 1227.1H222.6M202.6 1223.9V1230.3M222.6 1223.9V1230.3M363.2 1295.8V1339.2M360.0 1295.8H366.4M360.0 1339.2H366.4M353.7 1317.5H372.7M353.7 1314.3V1320.7M372.7 1314.3V1320.7M426.2 1151.5V1199.5M423.0 1151.5H429.4M423.0 1199.5H429.4M416.7 1156.4V1211.4M413.5 1156.4H419.9M413.5 1211.4H419.9M406.7 1183.9H426.7M406.7 1180.7V1187.1M426.7 1180.7V1187.1M448.6 1143.0V1186.4M445.4 1143.0H451.8M445.4 1186.4H451.8M436.2 1164.7H461.0M436.2 1161.5V1167.9M461.0 1161.5V1167.9M501.2 1133.4V1183.4M498.0 1133.4H504.4M498.0 1183.4H504.4M492.4 1158.4H510.0M492.4 1155.2V1161.6M510.0 1155.2V1161.6M492.8 1198.2V1248.2M489.6 1198.2H496.0M489.6 1248.2H496.0M481.6 1223.2H504.0M481.6 1220.0V1226.4M504.0 1220.0V1226.4M526.5 1301.0V1325.0M523.3 1301.0H529.7M523.3 1325.0H529.7M516.2 1313.0H536.8M516.2 1309.8V1316.2M536.8 1309.8V1316.2M530.3 1263.6V1317.6M527.1 1263.6H533.5M527.1 1317.6H533.5M514.5 1290.6H546.1M514.5 1287.4V1293.8M546.1 1287.4V1293.8M445.2 1329.1V1360.7M442.0 1329.1H448.4M442.0 1360.7H448.4M436.8 1344.9H453.6M436.8 1341.7V1348.1M453.6 1341.7V1348.1M456.8 1327.4V1394.6M453.6 1327.4H460.0M453.6 1394.6H460.0M443.8 1361.0H469.8M443.8 1357.8V1364.2M469.8 1357.8V1364.2M602.7 1391.0V1433.0M599.5 1391.0H605.9M599.5 1433.0H605.9M594.7 1412.0H610.7M594.7 1408.8V1415.2M610.7 1408.8V1415.2" stroke="#000" stroke-width="1.6" fill="none"/>
<circle cx="212.6" cy="1227.1" r="7.8" fill="#C5E4F3"/>
<circle cx="363.2" cy="1317.5" r="7.8" fill="#ED7D31"/>
<circle cx="426.2" cy="1175.5" r="7.2" fill="#D9D9D9" stroke="#000" stroke-width="1.3"/>
<circle cx="416.7" cy="1183.9" r="7.8" fill="#7030A0"/>
<circle cx="448.6" cy="1164.7" r="7.8" fill="#1A9CD8"/>
<circle cx="501.2" cy="1158.4" r="7.8" fill="#FF0000"/>
<circle cx="492.8" cy="1223.2" r="7.8" fill="#00B050"/>
<circle cx="526.5" cy="1313.0" r="7.8" fill="#92D050"/>
<circle cx="530.3" cy="1290.6" r="7.8" fill="#FF33FF"/>
<circle cx="445.2" cy="1344.9" r="7.8" fill="#7F7F7F"/>
<circle cx="456.8" cy="1361.0" r="7.8" fill="#FFC000"/>
<circle cx="602.7" cy="1412.0" r="7.8" fill="#000000"/>
<line x1="211.8" y1="1194.6" x2="602.9" y2="1308.1" stroke="#000" stroke-width="2.4"/>
<text x="130" y="1097.3" font-size="29">(c)</text>
<text x="179.1" y="1096.3" font-size="17.4">R² = 0.1082</text>
<text x="186.1" y="1121.1" font-size="17.4" xml:space="preserve">P  = 0.296</text>
<text x="334.6" y="1563.3" font-size="29.6" font-weight="bold">Slope <tspan font-size="32.5" dy="1">(</tspan><tspan font-family="DejaVu Sans" font-size="38" dy="8" dx="-1.0">°</tspan><tspan dy="-9" dx="-1">C </tspan><tspan dx="0.6">s</tspan><tspan font-size="20" dy="-8.5" dx="-1.2">-1</tspan><tspan font-size="32.5" dy="9.5" dx="0.2">)</tspan></text>
<text transform="translate(25.8,1255.5) rotate(-90)" font-size="30" font-weight="bold" text-anchor="middle" xml:space="preserve">C<tspan font-size="20" dy="5">P</tspan><tspan dy="-5">  (J kg</tspan><tspan font-size="20" dy="-13">-1</tspan><tspan dy="13"> K</tspan><tspan font-size="20" dy="-13">-1</tspan><tspan dy="13">)</tspan></text>
</svg>
</body></html>
